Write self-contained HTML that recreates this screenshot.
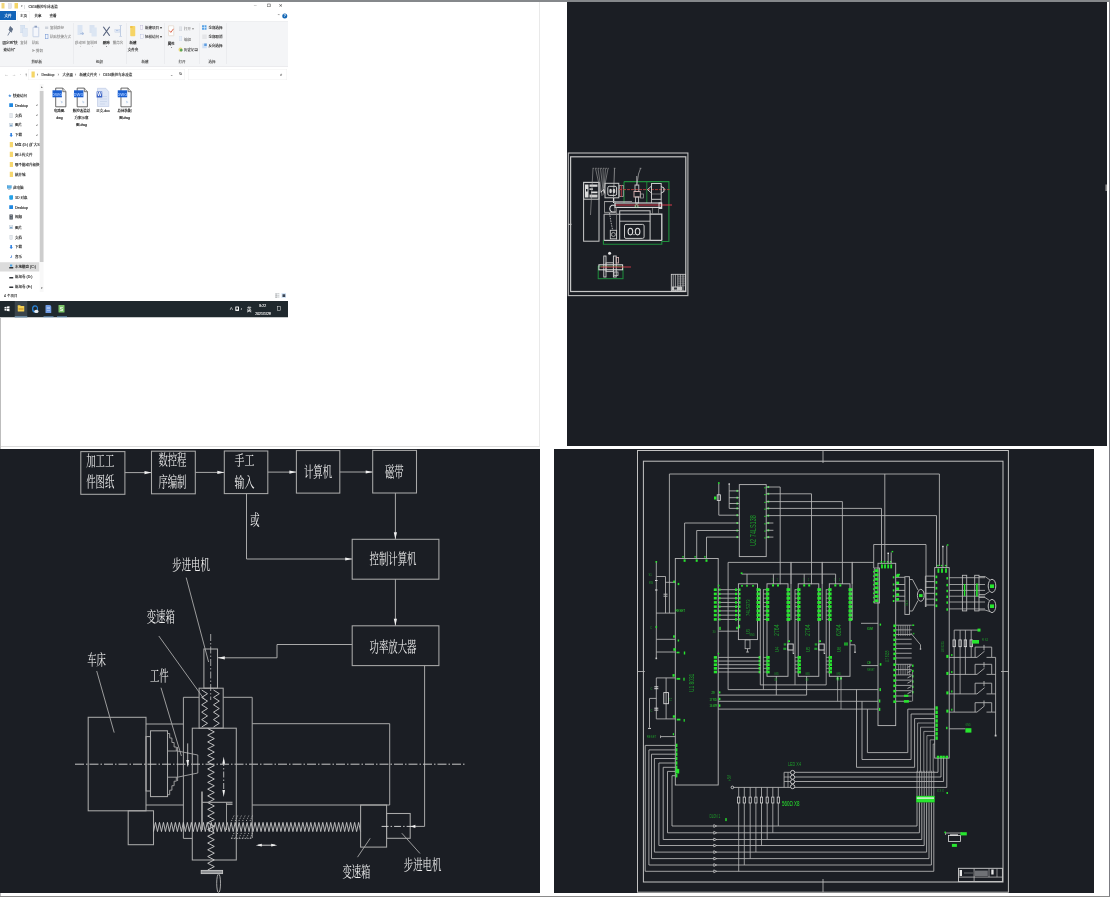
<!DOCTYPE html>
<html lang="zh-CN">
<head>
<meta charset="utf-8">
<title>C616数控车床改造</title>
<style>
html,body{margin:0;padding:0;}
body{width:1110px;height:897px;position:relative;overflow:hidden;background:#fff;font-family:"Liberation Sans","Noto Sans CJK SC",sans-serif;}
.abs{position:absolute;}
.fl{position:absolute;background:#8a8a8e;}
#p1{left:1px;top:1px;width:539px;height:446px;background:#fff;border-right:1px solid #e9e9e9;border-bottom:1px solid #dcdcdc;box-sizing:border-box;}
#p2{left:567px;top:1.6px;width:540px;height:444px;background:#1b1e24;}
#p3{left:0;top:449px;width:540px;height:444px;background:#1b1e24;}
#p4{left:554px;top:449px;width:539.5px;height:444px;background:#1b1e24;}
#ex{background:#fff;left:0;top:0;width:1152px;height:1272px;transform:scale(.25);transform-origin:0 0;font-size:14px;color:#333;line-height:1;white-space:nowrap;overflow:hidden;}
#ex i{position:absolute;display:block;font-style:normal;}
#ex b{position:absolute;display:block;font-weight:normal;transform:translateY(-50%);-webkit-text-stroke:0.5px currentColor;}
#ex b.c{transform:translate(-50%,-50%);}
svg{position:absolute;left:0;top:0;overflow:visible;}
#dw{filter:blur(0.35px);}
#ex{filter:blur(1.1px);}
.s{font-family:"Liberation Serif","Noto Serif CJK SC",serif;fill:#efefef;}
</style>
</head>
<body>
<div class="fl" style="left:0;top:0;width:1px;height:897px;background:#bdbdbd"></div><div class="fl" style="left:1109px;top:0;width:1px;height:897px;background:#7c7c82"></div><div class="fl" style="left:0;top:896px;width:1110px;height:1px;background:#8a8a8a"></div>
<div id="p1" class="abs"></div>
<div id="p2" class="abs"></div>
<div id="p3" class="abs"></div>
<div id="p4" class="abs"></div>
<div id="ex" class="abs">
<i style="left:6px;top:12px;width:12px;height:22px;background:#f3d77a;"></i>
<i style="left:34px;top:14px;width:12px;height:20px;background:#e4e4ec;border:1.6px solid #bbb;box-sizing:border-box"></i>
<i style="left:58px;top:12px;width:14px;height:22px;background:#f5d566;"></i>
<b style="left:82px;top:26px;color:#555;font-size:10px;">▾</b>
<b style="left:97.2px;top:25.2px;color:#bbb;">|</b>
<b style="left:114px;top:25.2px;color:#333;">C616数控车床改造</b>
<b style="left:1016px;top:22px;color:#555;font-size:14px;">─</b>
<b style="left:1066px;top:22px;color:#444;font-size:16.8px;">❐</b>
<b style="left:1116px;top:22px;color:#444;font-size:16.8px;">✕</b>
<i style="left:0px;top:44px;width:64px;height:36px;background:#1264b8;"></i>
<b class="c" style="left:32px;top:62.8px;color:#fff;">文件</b>
<b class="c" style="left:94px;top:63.2px;color:#333;">主页</b>
<i style="left:70px;top:46px;width:50px;height:38px;background:transparent;border:1.6px solid #e3e3e3;border-bottom:none;box-sizing:border-box"></i>
<b class="c" style="left:152px;top:63.2px;color:#333;">共享</b>
<b class="c" style="left:212px;top:63.2px;color:#333;">查看</b>
<b style="left:1108px;top:64px;color:#888;font-size:14px;">⌃</b>
<i style="left:1129.2px;top:54px;width:20px;height:20px;background:#1467b5;border-radius:50%"></i>
<b class="c" style="left:1139.2px;top:64px;color:#fff;font-size:14.4px;">?</b>
<i style="left:0px;top:84px;width:1152px;height:182px;background:#f4f5f7;border-bottom:2px solid #dcdde0;border-top:2px solid #e8e8ea;box-sizing:border-box"></i>
<i style="left:294px;top:92px;width:1.6px;height:164px;background:#e2e3e6;"></i>
<i style="left:506px;top:92px;width:1.6px;height:164px;background:#e2e3e6;"></i>
<i style="left:658px;top:92px;width:1.6px;height:164px;background:#e2e3e6;"></i>
<i style="left:798px;top:92px;width:1.6px;height:164px;background:#e2e3e6;"></i>
<i style="left:904px;top:92px;width:1.6px;height:164px;background:#e2e3e6;"></i>
<svg style="left:28px;top:104px" width="28" height="44" viewBox="0 0 7 11"><path d="M3.2 0.5 L6 3.3 L5 4 L4.4 6.3 L2 3.9 Z M3 5.4 L0.8 9.5" fill="#5f6f86" stroke="#5f6f86" stroke-width="0.8"/></svg>
<b class="c" style="left:40px;top:170.4px;color:#333;">固定到“快</b>
<b class="c" style="left:37.2px;top:198.4px;color:#333;">速访问”</b>
<i style="left:82px;top:100px;width:18px;height:32px;background:#d9e4f2;border:1.2px solid #c3d2e6;box-sizing:border-box"></i>
<i style="left:91.2px;top:112px;width:18.8px;height:34px;background:#dfe8f4;border:1.2px solid #c3d2e6;box-sizing:border-box"></i>
<b class="c" style="left:94.8px;top:170.4px;color:#9a9a9a;">复制</b>
<i style="left:130.8px;top:108px;width:24.8px;height:40px;background:#f4f6fb;border:2.4px solid #9fb2d4;box-sizing:border-box;border-radius:2px"></i>
<i style="left:138px;top:103.2px;width:10.4px;height:7.2px;background:#8ea0c0;"></i>
<b class="c" style="left:142.4px;top:170.4px;color:#9a9a9a;">粘贴</b>
<b style="left:129.2px;top:204px;color:#8a8a8a;font-size:12.8px;">✂</b>
<b style="left:144px;top:204px;color:#8a8a8a;">剪切</b>
<i style="left:180px;top:106px;width:12.8px;height:10.4px;background:#cfd4dc;"></i>
<b style="left:200px;top:112px;color:#9a9a9a;">复制路径</b>
<i style="left:181.2px;top:137.2px;width:12px;height:19.2px;background:#f4f7fc;border:2.4px solid #6b8fcf;box-sizing:border-box"></i>
<b style="left:200px;top:147.6px;color:#9a9a9a;">粘贴快捷方式</b>
<b class="c" style="left:147.2px;top:246px;color:#555;">剪贴板</b>
<i style="left:310px;top:100px;width:20px;height:40px;background:#dbe5f3;"></i>
<b class="c" style="left:327.2px;top:132px;color:#9db4da;font-size:20px;">➜</b>
<i style="left:358px;top:100px;width:20px;height:32px;background:#d9e3f1;"></i>
<i style="left:366px;top:110px;width:21.2px;height:36px;background:#dce6f3;"></i>
<b class="c" style="left:320.8px;top:171.2px;color:#9a9a9a;">移动到</b>
<b class="c" style="left:368px;top:171.2px;color:#9a9a9a;">复制到</b>
<b class="c" style="left:322px;top:186.4px;color:#bbb;font-size:8px;">▾</b>
<b class="c" style="left:369.2px;top:186.4px;color:#bbb;font-size:8px;">▾</b>
<svg style="left:410px;top:105.2px" width="32" height="40" viewBox="0 0 8 10"><path d="M0.8 0.5 L7.2 9.5 M7.2 0.5 L0.8 9.5" stroke="#56627e" stroke-width="1.15" fill="none"/></svg>
<b class="c" style="left:425.2px;top:171.6px;color:#222;">删除</b>
<b class="c" style="left:426px;top:187.2px;color:#555;font-size:8px;">▾</b>
<i style="left:459.2px;top:116px;width:20.8px;height:13.6px;background:#dfe7f4;border:1.2px solid #bccbe4;box-sizing:border-box"></i>
<i style="left:464px;top:121.6px;width:8.8px;height:2.4px;background:#8da7d4;"></i>
<i style="left:481.2px;top:102.8px;width:2.8px;height:42px;background:#aebfdc;"></i>
<i style="left:477.2px;top:102px;width:10.8px;height:2px;background:#aebfdc;"></i>
<i style="left:477.2px;top:144px;width:10.8px;height:2px;background:#aebfdc;"></i>
<b class="c" style="left:472px;top:171.2px;color:#9a9a9a;">重命名</b>
<b class="c" style="left:398px;top:245.2px;color:#555;">组织</b>
<i style="left:521.2px;top:104px;width:20px;height:41.2px;background:#f6d465;border-radius:3.2px"></i>
<i style="left:521.2px;top:104px;width:8.8px;height:8px;background:#eec24a;"></i>
<b class="c" style="left:532px;top:171.2px;color:#222;">新建</b>
<b class="c" style="left:532px;top:200px;color:#222;">文件夹</b>
<i style="left:561.2px;top:102.4px;width:10.4px;height:14.4px;background:#f7f7fb;border:1.6px solid #9a8fc0;box-sizing:border-box"></i>
<b style="left:580px;top:110.4px;color:#444;">新建项目 ▾</b>
<i style="left:562.4px;top:138.4px;width:10.4px;height:15.2px;background:#f7f7fb;border:1.6px solid #8f9fd0;box-sizing:border-box"></i>
<b style="left:580px;top:147.6px;color:#444;">轻松访问 ▾</b>
<b class="c" style="left:580px;top:245.2px;color:#555;">新建</b>
<i style="left:673.2px;top:102px;width:22.4px;height:42px;background:#fdfdfd;border:2px solid #d9c9b6;box-sizing:border-box;border-radius:2px"></i>
<svg style="left:674px;top:112px" width="24" height="24" viewBox="0 0 6 6"><path d="M0.8 2.6 L2.3 4.4 L5 0.8" stroke="#d8573c" stroke-width="0.9" fill="none"/></svg>
<b class="c" style="left:685.2px;top:172.8px;color:#222;">属性</b>
<b class="c" style="left:686.8px;top:188.8px;color:#555;font-size:8px;">▾</b>
<i style="left:717.2px;top:106.8px;width:10.4px;height:16.8px;background:#e3e6ea;border:1.2px solid #c5cad2;box-sizing:border-box"></i>
<b style="left:736px;top:116px;color:#9a9a9a;">打开 ▾</b>
<i style="left:717.2px;top:146.4px;width:11.2px;height:17.6px;background:#e8eef7;border:1.2px solid #c6d3e6;box-sizing:border-box"></i>
<b style="left:736px;top:156.8px;color:#8a8a8a;">编辑</b>
<i style="left:714px;top:190.4px;width:16px;height:16.8px;background:#e6d87c;border-radius:50%"></i>
<i style="left:720px;top:195.2px;width:10.4px;height:10.4px;background:#58a55c;border-radius:50%"></i>
<b style="left:736px;top:200px;color:#444;">历史记录</b>
<b class="c" style="left:728px;top:246px;color:#555;">打开</b>
<i style="left:808px;top:100.8px;width:18.4px;height:18.4px;background:#5aa3e6;"></i>
<i style="left:816.4px;top:100.8px;width:2px;height:18.4px;background:#fff;"></i>
<i style="left:808px;top:109.2px;width:18.4px;height:2px;background:#fff;"></i>
<b style="left:834px;top:110.8px;color:#333;">全部选择</b>
<i style="left:809.2px;top:138px;width:17.6px;height:18.4px;background:#e4e5e8;"></i>
<b style="left:834px;top:147.2px;color:#333;">全部取消</b>
<i style="left:809.2px;top:174px;width:17.6px;height:19.2px;background:#cfe0f5;"></i>
<i style="left:817.2px;top:174px;width:9.6px;height:9.6px;background:#5c9ce0;"></i>
<b style="left:834px;top:184px;color:#333;">反向选择</b>
<b class="c" style="left:848px;top:246px;color:#555;">选择</b>
<b style="left:18px;top:298px;color:#c4c4c4;font-size:16px;">←</b>
<b style="left:48px;top:298px;color:#c9c9c9;font-size:16px;">→</b>
<b style="left:78px;top:298.4px;color:#ccc;font-size:8.8px;">▾</b>
<b style="left:100px;top:297.6px;color:#666;font-size:16.8px;">↑</b>
<i style="left:114px;top:276px;width:626px;height:44px;background:#fff;border:1.6px solid #e2e2e2;box-sizing:border-box"></i>
<i style="left:126px;top:286px;width:13.2px;height:24px;background:#f5d667;"></i>
<b style="left:148px;top:298.4px;color:#777;">›</b>
<b style="left:166px;top:298px;color:#333;">Desktop</b>
<b style="left:231.2px;top:298.4px;color:#777;">›</b>
<b style="left:250px;top:298px;color:#333;">大桌面</b>
<b style="left:300px;top:298.4px;color:#777;">›</b>
<b style="left:318px;top:298px;color:#333;">新建文件夹</b>
<b style="left:396px;top:298.4px;color:#777;">›</b>
<b style="left:412px;top:298px;color:#333;">C616数控车床改造</b>
<b style="left:678px;top:298px;color:#666;font-size:14.4px;">⌄</b>
<b style="left:714px;top:297.2px;color:#555;font-size:16.8px;">↻</b>
<i style="left:754px;top:276px;width:394px;height:44px;background:#fff;border:1.6px solid #e2e2e2;box-sizing:border-box"></i>
<b style="left:1118px;top:297.6px;color:#666;font-size:18px;">⌕</b>
<i style="left:159.2px;top:364px;width:14.8px;height:684px;background:#cdcdcd;"></i>
<i style="left:159.2px;top:336px;width:14.8px;height:832px;background:#f8f8f8;z-index:-1"></i>
<b class="c" style="left:166.4px;top:350.4px;color:#666;font-size:10.4px;">▴</b>
<b class="c" style="left:166.4px;top:1153.2px;color:#555;font-size:10.4px;">▾</b>
<b style="left:33.2px;top:383.2px;color:#3a86d8;font-size:12.8px;">★</b>
<b style="left:52px;top:383.2px;color:#2b2b2b;">快速访问</b>
<i style="left:37.2px;top:412.8px;width:15.2px;height:15.2px;background:#1f87e0;"></i>
<b style="left:60px;top:420.8px;color:#2b2b2b;">Desktop</b>
<b style="left:145.2px;top:420.8px;color:#777;font-size:11.2px;">⌿</b>
<i style="left:39.2px;top:452.8px;width:11.2px;height:19.2px;background:#e6e9ee;border:1.2px solid #b9c1cc;box-sizing:border-box"></i>
<b style="left:60px;top:462.4px;color:#2b2b2b;">文档</b>
<b style="left:145.2px;top:462.4px;color:#777;font-size:11.2px;">⌿</b>
<i style="left:37.2px;top:492.4px;width:15.2px;height:14.4px;background:#dfe7ef;border:1.2px solid #a9b8c8;box-sizing:border-box"></i>
<i style="left:39.6px;top:499.2px;width:9.6px;height:5.6px;background:#7fa6c8;"></i>
<b style="left:60px;top:500px;color:#2b2b2b;">图片</b>
<b style="left:145.2px;top:500px;color:#777;font-size:11.2px;">⌿</b>
<b class="c" style="left:44.8px;top:540px;color:#2a7de0;font-size:17.6px;">⬇</b>
<b style="left:60px;top:540px;color:#2b2b2b;">下载</b>
<b style="left:145.2px;top:540px;color:#777;font-size:11.2px;">⌿</b>
<i style="left:38.8px;top:568px;width:12.8px;height:20.8px;background:#f6d76f;"></i>
<b style="left:60px;top:578.4px;color:#2b2b2b;">M盘 (D:)  (扩大S</b>
<i style="left:38.8px;top:606.8px;width:12.8px;height:20.8px;background:#f6d76f;"></i>
<b style="left:60px;top:617.2px;color:#2b2b2b;">网上传文件</b>
<i style="left:38.8px;top:647.6px;width:12.8px;height:20.8px;background:#f6d76f;"></i>
<b style="left:60px;top:658px;color:#2b2b2b;">哪个能动升级换</b>
<i style="left:38.8px;top:686.8px;width:12.8px;height:20.8px;background:#f6d76f;"></i>
<b style="left:60px;top:697.2px;color:#2b2b2b;">桃井城</b>
<i style="left:28px;top:741.6px;width:17.6px;height:12.8px;background:#5bb0e6;border:1.6px solid #4a8dc0;box-sizing:border-box"></i>
<i style="left:32px;top:756px;width:9.6px;height:2.4px;background:#7a8a99;"></i>
<b style="left:52px;top:750.4px;color:#2b2b2b;">此电脑</b>
<i style="left:37.2px;top:781.2px;width:15.2px;height:17.6px;background:#25a2e8;border-radius:4px 1.2px 4px 4px"></i>
<b style="left:60px;top:790px;color:#2b2b2b;">3D 对象</b>
<i style="left:37.2px;top:821.2px;width:15.2px;height:15.2px;background:#1f87e0;"></i>
<b style="left:60px;top:829.2px;color:#2b2b2b;">Desktop</b>
<i style="left:38.4px;top:858.4px;width:12.8px;height:20px;background:#3c444e;"></i>
<i style="left:41.2px;top:861.2px;width:7.2px;height:4px;background:#aab2bc;"></i>
<i style="left:41.2px;top:870px;width:7.2px;height:4px;background:#aab2bc;"></i>
<b style="left:60px;top:868.4px;color:#2b2b2b;">视频</b>
<i style="left:37.2px;top:901.6px;width:15.2px;height:14.4px;background:#dfe7ef;border:1.2px solid #a9b8c8;box-sizing:border-box"></i>
<i style="left:39.6px;top:908.4px;width:9.6px;height:5.6px;background:#7fa6c8;"></i>
<b style="left:60px;top:909.2px;color:#2b2b2b;">图片</b>
<i style="left:39.2px;top:940px;width:11.2px;height:19.2px;background:#e6e9ee;border:1.2px solid #b9c1cc;box-sizing:border-box"></i>
<b style="left:60px;top:949.6px;color:#2b2b2b;">文档</b>
<b class="c" style="left:44.8px;top:987.6px;color:#2a7de0;font-size:17.6px;">⬇</b>
<b style="left:60px;top:987.6px;color:#2b2b2b;">下载</b>
<b class="c" style="left:44.8px;top:1026.4px;color:#2a6fd0;font-size:20px;">♪</b>
<b style="left:60px;top:1026.4px;color:#2b2b2b;">音乐</b>
<i style="left:0px;top:1049.2px;width:157.2px;height:36.8px;background:#dcdcdc;z-index:-1"></i>
<i style="left:37.2px;top:1068px;width:16px;height:5.6px;background:#2f3338;"></i>
<i style="left:39.6px;top:1058.4px;width:9.6px;height:8px;background:#4aa3e6;"></i>
<b style="left:60px;top:1066.4px;color:#2b2b2b;">本地磁盘 (C:)</b>
<i style="left:37.2px;top:1108px;width:16px;height:6px;background:#2f3338;border-radius:1.2px"></i>
<b style="left:60px;top:1106.8px;color:#2b2b2b;">新加卷 (D:)</b>
<i style="left:37.2px;top:1146px;width:16px;height:6px;background:#2f3338;border-radius:1.2px"></i>
<b style="left:60px;top:1144.8px;color:#2b2b2b;">新加卷 (E:)</b>
<b style="left:16px;top:1184px;color:#444;">4 个项目</b>
<i style="left:1100px;top:1172px;width:18.4px;height:20px;background:#eceff2;"></i>
<i style="left:1101.6px;top:1174.4px;width:5.6px;height:4px;background:#9a9a9a;"></i>
<i style="left:1101.6px;top:1180.8px;width:5.6px;height:4px;background:#9a9a9a;"></i>
<i style="left:1101.6px;top:1187.2px;width:5.6px;height:4px;background:#9a9a9a;"></i>
<i style="left:1109.2px;top:1174.4px;width:8px;height:2px;background:#bbb;"></i>
<i style="left:1109.2px;top:1180.8px;width:8px;height:2px;background:#bbb;"></i>
<i style="left:1109.2px;top:1187.2px;width:8px;height:2px;background:#bbb;"></i>
<i style="left:1126px;top:1172px;width:18.4px;height:20px;background:#d6e6f7;"></i>
<i style="left:1129.6px;top:1177.2px;width:11.2px;height:10.4px;background:#3c4654;"></i>
<svg style="left:210.4px;top:349.6px" width="56" height="80" viewBox="0 0 14 20"><path d="M3.2 0.6 H10.3 L13.4 4.2 V19.3 H3.2 Z" fill="#fbfbfc" stroke="#3b3b3b" stroke-width="0.75"/><path d="M10.3 0.6 V4.2 H13.4" fill="#d8d8d8" stroke="#3b3b3b" stroke-width="0.6"/><rect x="0" y="2.8" width="9.4" height="7" fill="#1b5fd0"/><text x="4.7" y="8.1" font-size="4.2" fill="#9ec3ff" text-anchor="middle" font-family="Liberation Sans,sans-serif" font-weight="bold">DWG</text><path d="M8 13 l2.6 1.5 l-1.6 1.4 z" fill="#bfd3ea"/></svg>
<svg style="left:296px;top:349.6px" width="56" height="80" viewBox="0 0 14 20"><path d="M3.2 0.6 H10.3 L13.4 4.2 V19.3 H3.2 Z" fill="#fbfbfc" stroke="#3b3b3b" stroke-width="0.75"/><path d="M10.3 0.6 V4.2 H13.4" fill="#d8d8d8" stroke="#3b3b3b" stroke-width="0.6"/><rect x="0" y="2.8" width="9.4" height="7" fill="#1b5fd0"/><text x="4.7" y="8.1" font-size="4.2" fill="#9ec3ff" text-anchor="middle" font-family="Liberation Sans,sans-serif" font-weight="bold">DWG</text><path d="M8 13 l2.6 1.5 l-1.6 1.4 z" fill="#bfd3ea"/></svg>
<svg style="left:470.8px;top:349.6px" width="56" height="80" viewBox="0 0 14 20"><path d="M3.2 0.6 H10.3 L13.4 4.2 V19.3 H3.2 Z" fill="#fbfbfc" stroke="#3b3b3b" stroke-width="0.75"/><path d="M10.3 0.6 V4.2 H13.4" fill="#d8d8d8" stroke="#3b3b3b" stroke-width="0.6"/><rect x="0" y="2.8" width="9.4" height="7" fill="#1b5fd0"/><text x="4.7" y="8.1" font-size="4.2" fill="#9ec3ff" text-anchor="middle" font-family="Liberation Sans,sans-serif" font-weight="bold">DWG</text><path d="M8 13 l2.6 1.5 l-1.6 1.4 z" fill="#bfd3ea"/></svg>
<svg style="left:384px;top:349.6px" width="56" height="80" viewBox="0 0 14 20"><path d="M1.5 0.8 H9.8 L12.8 4.2 V19 H1.5 Z" fill="#dfe7f6" stroke="#b9c6e2" stroke-width="0.6"/><path d="M4 9 h7 M4 11.5 h7 M4 14 h7 M4 16.5 h5" stroke="#c6d2ea" stroke-width="0.7"/><rect x="0.6" y="4" width="5.6" height="6" fill="#3a62c4"/><text x="3.4" y="8.7" font-size="4.6" fill="#fff" text-anchor="middle" font-family="Liberation Sans,sans-serif" font-weight="bold">W</text></svg>
<b class="c" style="left:238px;top:444px;color:#222;">电路图.</b>
<b class="c" style="left:238px;top:471.2px;color:#222;">dwg</b>
<b class="c" style="left:326px;top:444px;color:#222;">数控改造总</b>
<b class="c" style="left:326px;top:471.2px;color:#222;">方案示意</b>
<b class="c" style="left:326px;top:498.8px;color:#222;">图.dwg</b>
<b class="c" style="left:412px;top:444px;color:#222;">正文.doc</b>
<b class="c" style="left:498.4px;top:444px;color:#222;">总体装配</b>
<b class="c" style="left:498.4px;top:471.2px;color:#222;">图.dwg</b>
<i style="left:0px;top:1204px;width:1152px;height:65.2px;background:#1f282d;"></i>
<i style="left:59.2px;top:1204px;width:49.6px;height:65.2px;background:#3a444b;"></i>
<i style="left:59.2px;top:1266px;width:49.6px;height:3.2px;background:#8fc3ee;"></i>
<svg style="left:18.4px;top:1224.8px" width="20" height="20" viewBox="0 0 5 5"><path d="M0 0.7 L2.1 0.4 V2.3 H0 Z M2.5 0.35 L5 0 V2.3 H2.5 Z M0 2.7 H2.1 V4.6 L0 4.3 Z M2.5 2.7 H5 V5 L2.5 4.65 Z" fill="#fff"/></svg>
<i style="left:71.2px;top:1224px;width:25.6px;height:22.4px;background:#f2cf52;border-radius:2px"></i>
<i style="left:74.4px;top:1232px;width:19.2px;height:8px;background:#d7a93a;"></i>
<i style="left:71.2px;top:1220.8px;width:10.4px;height:4.8px;background:#f2cf52;"></i>
<i style="left:128px;top:1220.8px;width:24px;height:29.6px;background:#2d88dd;border-radius:50%"></i>
<i style="left:132.8px;top:1226.4px;width:15.2px;height:17.6px;background:#1f282d;border-radius:50%"></i>
<i style="left:136.8px;top:1239.2px;width:16.8px;height:12.8px;background:#e9eef3;border-radius:50%"></i>
<i style="left:182.4px;top:1220px;width:22.4px;height:32px;background:#6f9be4;border-radius:2.4px 7.2px 2.4px 2.4px"></i>
<i style="left:187.2px;top:1228px;width:12.8px;height:2px;background:#d6e3fa;"></i>
<i style="left:187.2px;top:1234.4px;width:12.8px;height:2px;background:#d6e3fa;"></i>
<i style="left:187.2px;top:1240.8px;width:12.8px;height:2px;background:#d6e3fa;"></i>
<i style="left:174px;top:1266px;width:40px;height:3.2px;background:#7fb4e6;"></i>
<i style="left:234px;top:1220px;width:24px;height:30.4px;background:#7cc56a;border-radius:2.4px"></i>
<b class="c" style="left:246px;top:1235.2px;color:#fff;font-size:20px;">S</b>
<i style="left:228px;top:1266px;width:40px;height:3.2px;background:#7fb4e6;"></i>
<b style="left:918px;top:1237.2px;color:#e8e8e8;font-size:14.4px;">∧</b>
<i style="left:940.8px;top:1225.6px;width:15.2px;height:18.4px;background:#f1f1f1;border-radius:1.6px"></i>
<i style="left:944.8px;top:1229.6px;width:7.2px;height:8px;background:#1f282d;"></i>
<b style="left:962px;top:1237.2px;color:#ddd;font-size:14.4px;">♪</b>
<b style="left:988px;top:1236.8px;color:#f3f3f3;font-size:17.6px;">英</b>
<b class="c" style="left:1050.8px;top:1221.6px;color:#f1f1f1;">8:22</b>
<b class="c" style="left:1052px;top:1252.8px;color:#f1f1f1;">2021/1/29</b>
<i style="left:1108px;top:1224px;width:14.4px;height:18.4px;background:transparent;border:2.4px solid #e8e8e8;box-sizing:border-box;border-radius:1.2px"></i>
</div>
<div class="fl" style="left:0;top:0;width:1110px;height:1.6px;background:#85888b"></div>
<svg id="dw" width="1110" height="897" viewBox="0 0 1110 897">
<g id="g2"><rect x="568.3" y="153" width="119.6" height="142.6" rx="0" fill="none" stroke="#bdbdbd" stroke-width="1.1"/>
<rect x="570.6" y="156.8" width="115.2" height="134.7" rx="0" fill="none" stroke="#c6c6c6" stroke-width="1.2"/>
<path d="M568.3 224.3 L571.5 224.3" fill="none" stroke="#c9c9c9" stroke-width="1" />
<path d="M624 181.6 L668.9 181.6 L668.9 241.5 L661.8 241.5 L661.8 244.3 L603.4 244.3 L603.4 240" fill="none" stroke="#1f8f3c" stroke-width="1.1" />
<path d="M624 181.6 L624 203" fill="none" stroke="#1f8f3c" stroke-width="1" />
<path d="M646.8 181.8 L646.8 203" fill="none" stroke="#1f8f3c" stroke-width="0.9" />
<rect x="583.6" y="182.4" width="15.4" height="58.8" rx="0" fill="none" stroke="#c9c9c9" stroke-width="1"/>
<rect x="583.6" y="182.4" width="15.4" height="16.8" rx="0" fill="none" stroke="#c9c9c9" stroke-width="1"/>
<rect x="585" y="184.5" width="3.5" height="13" rx="0" fill="#dcdcdc" stroke="#c9c9c9" stroke-width="0"/>
<rect x="589.5" y="184.5" width="8" height="2.3" rx="0" fill="#d8d8d8" stroke="#c9c9c9" stroke-width="0"/>
<rect x="589.5" y="188.3" width="3.5" height="1.7" rx="0" fill="#bbb" stroke="#c9c9c9" stroke-width="0"/>
<rect x="591" y="191.5" width="6.5" height="1.7" rx="0" fill="#e2e2e2" stroke="#c9c9c9" stroke-width="0"/>
<rect x="589.5" y="194.6" width="8" height="2.9" rx="0" fill="#cfcfcf" stroke="#c9c9c9" stroke-width="0"/>
<rect x="586" y="189" width="1.5" height="2.5" rx="0" fill="#1b1e24" stroke="#c9c9c9" stroke-width="0"/>
<path d="M593 168.5 L590.5 215" fill="none" stroke="#a8a8a8" stroke-width="0.6" />
<path d="M595.5 168.5 L601 193" fill="none" stroke="#a8a8a8" stroke-width="0.6" />
<path d="M598 168.5 L602 196" fill="none" stroke="#a8a8a8" stroke-width="0.6" />
<path d="M600.5 168.5 L603 190" fill="none" stroke="#a8a8a8" stroke-width="0.6" />
<path d="M603 168.5 L603.5 192" fill="none" stroke="#a8a8a8" stroke-width="0.6" />
<path d="M605.5 168.5 L604 188" fill="none" stroke="#a8a8a8" stroke-width="0.6" />
<path d="M608 168.5 L603 195" fill="none" stroke="#a8a8a8" stroke-width="0.6" />
<path d="M614.5 168.5 L613.5 197" fill="none" stroke="#b0b0b0" stroke-width="0.7" />
<path d="M640.5 168.5 L638.5 174 L636.8 186" fill="none" stroke="#b0b0b0" stroke-width="0.7" />
<path d="M592.6 168.3 L609 168.3" fill="none" stroke="#9c9c9c" stroke-width="0.7" stroke-dasharray="1.6 1"/>
<path d="M613.8 168.3 L615.4 168.3" fill="none" stroke="#aaa" stroke-width="0.7" />
<path d="M639.6 168.3 L641.4 168.3" fill="none" stroke="#aaa" stroke-width="0.7" />
<rect x="605" y="183.3" width="13.8" height="14.5" rx="0" fill="none" stroke="#c9c9c9" stroke-width="1"/>
<rect x="607.8" y="186.3" width="8.8" height="9.1" rx="1.5" fill="none" stroke="#d4d4d4" stroke-width="1"/>
<ellipse cx="610.6" cy="191" rx="1.3" ry="2.2" fill="#cfcfcf"/><ellipse cx="614" cy="191" rx="1.3" ry="2.2" fill="#cfcfcf"/>
<rect x="619.5" y="185.5" width="3.8" height="11" rx="0" fill="none" stroke="#aaa" stroke-width="0.8"/>
<path d="M621.3 185 L621.3 197" fill="none" stroke="#d83a4a" stroke-width="0.8" />
<path d="M601 192 L604 189.5 L604.8 193.5" fill="none" stroke="#ddd" stroke-width="1" />
<path d="M619 189.6 L669.5 189.6" fill="none" stroke="#c8423f" stroke-width="0.8" stroke-dasharray="3 1"/>
<rect x="635" y="185" width="3.8" height="6.5" rx="0" fill="none" stroke="#c9c9c9" stroke-width="0.9"/>
<rect x="634" y="191.5" width="6.3" height="5.5" rx="0" fill="none" stroke="#d8b0b0" stroke-width="0.9"/>
<rect x="635.6" y="197" width="3" height="6" rx="0" fill="none" stroke="#c9c9c9" stroke-width="0.9"/>
<path d="M636.8 176 L636.8 185" fill="none" stroke="#c9c9c9" stroke-width="0.8" />
<rect x="640.3" y="194" width="3.1" height="4" rx="0" fill="none" stroke="#aaa" stroke-width="0.7"/>
<rect x="651.5" y="183.5" width="9.7" height="15.8" rx="0" fill="none" stroke="#c9c9c9" stroke-width="1"/>
<path d="M651.5 186 L647.5 189.6 L651.5 193.2" fill="none" stroke="#c9c9c9" stroke-width="1" />
<path d="M661.2 186.5 L664 188 L664 191.5 L661.2 193" fill="none" stroke="#e0e0e0" stroke-width="1" />
<path d="M652 194 L661 194" fill="none" stroke="#9a9a9a" stroke-width="0.7" />
<path d="M651.5 199.3 L651.5 203" fill="none" stroke="#c9c9c9" stroke-width="0.8" />
<path d="M661.2 199.3 L661.2 203" fill="none" stroke="#c9c9c9" stroke-width="0.8" />
<rect x="615" y="203" width="46.4" height="4.4" rx="0" fill="none" stroke="#e0e0e0" stroke-width="1.1"/>
<path d="M615 205 L672 205" fill="none" stroke="#d83a4a" stroke-width="1" />
<rect x="659" y="203" width="2.8" height="5.5" rx="0" fill="none" stroke="#e6e6e6" stroke-width="0.9"/>
<path d="M604.5 201.6 L632 201.6" fill="none" stroke="#bbb" stroke-width="0.8" />
<path d="M613.6 198 L613.6 203" fill="none" stroke="#e0e0e0" stroke-width="1.3" />
<path d="M616 205.3 H612 A3.2 3.5 0 0 0 612 212 H616" fill="none" stroke="#e0e0e0" stroke-width="1.1"/>
<circle cx="636.6" cy="206" r="1.5" fill="none" stroke="#9fe0a8" stroke-width="0.8"/>
<rect x="604.6" y="201.6" width="10.4" height="10.7" rx="0" fill="none" stroke="#aaa" stroke-width="0.8"/>
<path d="M604.1 240.4 L604.1 214.2 L619.7 214.2" fill="none" stroke="#c9c9c9" stroke-width="1" />
<path d="M650.1 214.2 L661.8 214.2 L661.8 240.4" fill="none" stroke="#d8d8d8" stroke-width="1.3" />
<path d="M604.1 240.4 L661.8 240.4" fill="none" stroke="#d0d0d0" stroke-width="1.4" />
<rect x="619.7" y="210.8" width="30.4" height="29.6" rx="0" fill="none" stroke="#c9c9c9" stroke-width="1"/>
<path d="M619.7 214.2 L650.1 214.2" fill="none" stroke="#c9c9c9" stroke-width="0.9" />
<path d="M619.7 221.2 L650.1 221.2" fill="none" stroke="#c9c9c9" stroke-width="0.9" />
<path d="M616.5 207.5 L616.5 240" fill="none" stroke="#909090" stroke-width="0.7" />
<path d="M652.5 208 L652.5 214" fill="none" stroke="#909090" stroke-width="0.7" />
<path d="M658.5 208 L658.5 214" fill="none" stroke="#909090" stroke-width="0.7" />
<rect x="624.5" y="224.4" width="19.6" height="14" rx="1.5" fill="none" stroke="#c9c9c9" stroke-width="1"/>
<ellipse cx="630.4" cy="231.6" rx="2.3" ry="3.3" fill="none" stroke="#dcdcdc" stroke-width="1.1"/><ellipse cx="637.6" cy="231.6" rx="2.3" ry="3.3" fill="none" stroke="#dcdcdc" stroke-width="1.1"/><circle cx="634" cy="234.6" r="0.6" fill="#ddd"/>
<rect x="610.3" y="230.3" width="6.3" height="8.5" rx="0" fill="none" stroke="#c9c9c9" stroke-width="0.9"/>
<circle cx="613.4" cy="234.5" r="2" fill="none" stroke="#bbb" stroke-width="0.8"/>
<path d="M609.5 213 L611 222 L612.6 230" fill="none" stroke="#bcbcbc" stroke-width="0.9" stroke-dasharray="1.5 1"/>
<rect x="598.2" y="266.3" width="24.8" height="12.4" rx="0" fill="none" stroke="#1f8f3c" stroke-width="1"/>
<circle cx="609.6" cy="253.2" r="1.5" fill="#e8e8e8"/>
<rect x="603.8" y="256" width="2.2" height="21" rx="0" fill="none" stroke="#d6d6d6" stroke-width="0.9"/>
<rect x="613.4" y="256" width="2.8" height="21" rx="0" fill="none" stroke="#d6d6d6" stroke-width="0.9"/>
<rect x="616.2" y="257.5" width="2.4" height="5.5" rx="0" fill="none" stroke="#d8b8b8" stroke-width="0.8"/>
<rect x="598.9" y="264.8" width="23.7" height="5" rx="0" fill="none" stroke="#e0e0e0" stroke-width="1"/>
<rect x="606" y="262.8" width="7.4" height="8.8" rx="0" fill="none" stroke="#ccc" stroke-width="0.9"/>
<rect x="614" y="272" width="4" height="3.5" rx="0" fill="none" stroke="#ccc" stroke-width="0.8"/>
<path d="M600.5 267 L631 267" fill="none" stroke="#d83a4a" stroke-width="0.9" />
<rect x="671.3" y="274.3" width="14.3" height="16.7" rx="0" fill="none" stroke="#d8d8d8" stroke-width="0.8"/>
<path d="M673.2 274.3 L673.2 291" fill="none" stroke="#cfcfcf" stroke-width="0.7" />
<path d="M675.4 274.3 L675.4 291" fill="none" stroke="#cfcfcf" stroke-width="0.7" />
<path d="M677.8 274.3 L677.8 291" fill="none" stroke="#cfcfcf" stroke-width="0.7" />
<path d="M680.4 274.3 L680.4 291" fill="none" stroke="#cfcfcf" stroke-width="0.7" />
<path d="M683 274.3 L683 291" fill="none" stroke="#cfcfcf" stroke-width="0.7" />
<path d="M678 276.2 L685.6 276.2" fill="none" stroke="#bdbdbd" stroke-width="0.5" />
<path d="M678 278.1 L685.6 278.1" fill="none" stroke="#bdbdbd" stroke-width="0.5" />
<path d="M678 280 L685.6 280" fill="none" stroke="#bdbdbd" stroke-width="0.5" />
<path d="M678 281.9 L685.6 281.9" fill="none" stroke="#bdbdbd" stroke-width="0.5" />
<path d="M678 283.8 L685.6 283.8" fill="none" stroke="#bdbdbd" stroke-width="0.5" />
<path d="M678 285.7 L685.6 285.7" fill="none" stroke="#bdbdbd" stroke-width="0.5" />
<rect x="671.8" y="286.5" width="10.2" height="4.1" rx="0" fill="#c4c4c4" stroke="#c9c9c9" stroke-width="0"/>
<rect x="674" y="287.5" width="3" height="2" rx="0" fill="#33363c" stroke="#c9c9c9" stroke-width="0"/>
<rect x="1105.4" y="184.5" width="1.6" height="6.5" rx="0" fill="#8c8c8c" stroke="#c9c9c9" stroke-width="0"/></g>
<g id="g3"><rect x="80.8" y="451.6" width="44.1" height="42.7" fill="none" stroke="#a9a9a9" stroke-width="1.05"/>
<rect x="151.5" y="451.2" width="43.8" height="42.6" fill="none" stroke="#a9a9a9" stroke-width="1.05"/>
<rect x="224.3" y="451" width="43.5" height="42.6" fill="none" stroke="#a9a9a9" stroke-width="1.05"/>
<rect x="296.4" y="450.6" width="43.4" height="42.5" fill="none" stroke="#a9a9a9" stroke-width="1.05"/>
<rect x="372.7" y="450.4" width="43.8" height="42.6" fill="none" stroke="#a9a9a9" stroke-width="1.05"/>
<text class="s" transform="translate(86.2 465.812) scale(0.66 1)" font-size="14.2" fill="#e6e6e6">加工工</text>
<text class="s" transform="translate(86.2 487.212) scale(0.66 1)" font-size="14.2" fill="#e6e6e6">件图纸</text>
<text class="s" transform="translate(158.4 465.412) scale(0.66 1)" font-size="14.2" fill="#e6e6e6">数控程</text>
<text class="s" transform="translate(158.4 486.812) scale(0.66 1)" font-size="14.2" fill="#e6e6e6">序编制</text>
<text class="s" transform="translate(234.6 465.212) scale(0.7 1)" font-size="14.2" fill="#e6e6e6">手工</text>
<text class="s" transform="translate(234.6 486.612) scale(0.7 1)" font-size="14.2" fill="#e6e6e6">输入</text>
<text class="s" transform="translate(304 477.212) scale(0.66 1)" font-size="14.2" fill="#e6e6e6">计算机</text>
<text class="s" transform="translate(385 477.012) scale(0.66 1)" font-size="14.2" fill="#e6e6e6">磁带</text>
<path d="M124.9 472.6 L151.5 472.6" fill="none" stroke="#a9a9a9" stroke-width="1.0" />
<polygon points="151.5,472.6 144.5,471 144.5,474.2" fill="#f0f0f0"/>
<path d="M195.3 472.4 L224.3 472.4" fill="none" stroke="#a9a9a9" stroke-width="1.0" />
<polygon points="224.3,472.4 217.3,470.8 217.3,474" fill="#f0f0f0"/>
<path d="M267.8 472.1 L296.4 472.1" fill="none" stroke="#a9a9a9" stroke-width="1.0" />
<polygon points="296.4,472.1 289.4,470.5 289.4,473.7" fill="#f0f0f0"/>
<path d="M339.8 472 L372.7 472" fill="none" stroke="#a9a9a9" stroke-width="1.0" />
<polygon points="372.7,472 365.7,470.4 365.7,473.6" fill="#f0f0f0"/>
<text class="s" transform="translate(250.3 525.012) scale(0.66 1)" font-size="14.2" fill="#e6e6e6">或</text>
<path d="M246.5 493.6 L246.5 559 L352.2 559" fill="none" stroke="#a9a9a9" stroke-width="1.0" />
<polygon points="352.2,559 345.2,557.4 345.2,560.6" fill="#f0f0f0"/>
<path d="M395.4 493 L395.4 539.3" fill="none" stroke="#a9a9a9" stroke-width="1.0" />
<polygon points="395.4,539.3 393.8,532.3 397,532.3" fill="#f0f0f0"/>
<rect x="352.2" y="539.3" width="86.7" height="39.9" fill="none" stroke="#a9a9a9" stroke-width="1.05"/>
<text class="s" transform="translate(369.6 563.812) scale(0.66 1)" font-size="14.2" fill="#e6e6e6">控制计算机</text>
<path d="M395.4 579.2 L395.4 625.8" fill="none" stroke="#a9a9a9" stroke-width="1.0" />
<polygon points="395.4,625.8 393.8,618.8 397,618.8" fill="#f0f0f0"/>
<rect x="352.2" y="625.8" width="86.7" height="39.8" fill="none" stroke="#a9a9a9" stroke-width="1.05"/>
<text class="s" transform="translate(369.6 651.612) scale(0.66 1)" font-size="14.2" fill="#e6e6e6">功率放大器</text>
<path d="M352.2 644.5 L277 644.5 L277 657.8 L217.6 657.8" fill="none" stroke="#a9a9a9" stroke-width="1.0" />
<polygon points="217.8,657.8 224.8,656.2 224.8,659.4" fill="#f0f0f0"/>
<path d="M424.6 665.6 L424.6 826.4 L410.2 826.4" fill="none" stroke="#a9a9a9" stroke-width="1.0" />
<polygon points="410.4,826.4 415.4,824.8 415.4,828" fill="#f0f0f0"/>
<text class="s" transform="translate(172.3 569.612) scale(0.66 1)" font-size="14.2" fill="#e6e6e6">步进电机</text>
<path d="M186.2 577.6 L208.6 662" fill="none" stroke="#a9a9a9" stroke-width="0.9" />
<text class="s" transform="translate(146.7 622.112) scale(0.66 1)" font-size="14.2" fill="#e6e6e6">变速箱</text>
<path d="M158.8 636 L204.4 699.5" fill="none" stroke="#a9a9a9" stroke-width="0.9" />
<text class="s" transform="translate(150 681.112) scale(0.66 1)" font-size="14.2" fill="#e6e6e6">工件</text>
<path d="M161 687.7 L181.4 756" fill="none" stroke="#a9a9a9" stroke-width="0.9" />
<text class="s" transform="translate(87.2 664.612) scale(0.66 1)" font-size="14.2" fill="#e6e6e6">车床</text>
<path d="M96.7 671 L114.2 732.6" fill="none" stroke="#a9a9a9" stroke-width="0.9" />
<text class="s" transform="translate(342.4 876.812) scale(0.66 1)" font-size="14.2" fill="#e6e6e6">变速箱</text>
<path d="M370.2 838.3 L357.5 857.2" fill="none" stroke="#a9a9a9" stroke-width="0.9" />
<text class="s" transform="translate(403.8 869.912) scale(0.66 1)" font-size="14.2" fill="#e6e6e6">步进电机</text>
<path d="M401.8 833.2 L420 853.5" fill="none" stroke="#a9a9a9" stroke-width="0.9" />
<rect x="88.2" y="717.3" width="57.8" height="93.5" fill="none" stroke="#a9a9a9" stroke-width="1.05"/>
<rect x="128.2" y="810.8" width="25.3" height="33.9" fill="none" stroke="#a9a9a9" stroke-width="1.05"/>
<path d="M146 724 L183.4 724" fill="none" stroke="#a9a9a9" stroke-width="1.0" />
<path d="M146 805 L183.4 805" fill="none" stroke="#a9a9a9" stroke-width="1.0" />
<path d="M252.2 723.7 L389.7 723.7 L389.7 805 L252.2 805" fill="none" stroke="#a9a9a9" stroke-width="1.0" />
<rect x="146" y="736.6" width="4.5" height="54.4" fill="none" stroke="#a9a9a9" stroke-width="1.05"/>
<rect x="150.5" y="730.8" width="17" height="65.8" fill="none" stroke="#a9a9a9" stroke-width="1.05"/>
<path d="M167.5 733.5 L169.7 733.5 L169.7 738 L171.9 738 L171.9 742.5 L174.1 742.5 L174.1 747 L176.3 747 L176.3 751" fill="none" stroke="#a9a9a9" stroke-width="0.9" />
<path d="M167.5 794.7 L169.7 794.7 L169.7 790.2 L171.9 790.2 L171.9 785.7 L174.1 785.7 L174.1 781.2 L176.3 781.2 L176.3 777.2" fill="none" stroke="#a9a9a9" stroke-width="0.9" />
<path d="M167.5 751 L177.6 751" fill="none" stroke="#a9a9a9" stroke-width="0.9" />
<path d="M167.5 777.2 L177.6 777.2" fill="none" stroke="#a9a9a9" stroke-width="0.9" />
<path d="M177.6 747 L177.6 781" fill="none" stroke="#a9a9a9" stroke-width="0.9" />
<path d="M177.6 751 L197.8 755 L197.8 773 L177.6 777.2" fill="none" stroke="#a9a9a9" stroke-width="0.9" />
<path d="M75 764.2 L464.6 764.2" fill="none" stroke="#c8c8c8" stroke-width="1" stroke-dasharray="9 2 1.5 2"/>
<path d="M192.3 838.4 L183.4 838.4 L183.4 697.3 L199.1 697.3" fill="none" stroke="#a9a9a9" stroke-width="1.0" />
<path d="M223.2 697.3 L252.2 697.3 L252.2 838" fill="none" stroke="#a9a9a9" stroke-width="1.0" />
<rect x="192.3" y="728.2" width="44" height="131.8" fill="none" stroke="#a9a9a9" stroke-width="1.05"/>
<rect x="199.1" y="688.2" width="24.1" height="40" fill="none" stroke="#a9a9a9" stroke-width="1.05"/>
<rect x="203.9" y="649" width="13.6" height="39.2" fill="none" stroke="#a9a9a9" stroke-width="1.05"/>
<path d="M210.7 634 L210.7 700" fill="none" stroke="#c0c0c0" stroke-width="0.8" stroke-dasharray="7 2 1.5 2"/>
<path d="M201.7 690 L207.5 693.7 L201.7 697.4 L207.5 701.1 L201.7 704.8 L207.5 708.5 L201.7 712.2 L207.5 715.9 L201.7 719.6 L207.5 723.3 L201.7 727" fill="none" stroke="#d0d0d0" stroke-width="0.9" />
<path d="M213.5 690 L219.3 693.7 L213.5 697.4 L219.3 701.1 L213.5 704.8 L219.3 708.5 L213.5 712.2 L219.3 715.9 L213.5 719.6 L219.3 723.3 L213.5 727" fill="none" stroke="#d0d0d0" stroke-width="0.9" />
<path d="M207.7 728.5 L214.3 731.869 L207.7 735.238 L214.3 738.607 L207.7 741.976 L214.3 745.345 L207.7 748.714 L214.3 752.083 L207.7 755.452 L214.3 758.821 L207.7 762.19 L214.3 765.56 L207.7 768.929 L214.3 772.298 L207.7 775.667 L214.3 779.036 L207.7 782.405 L214.3 785.774 L207.7 789.143 L214.3 792.512 L207.7 795.881 L214.3 799.25 L207.7 802.619 L214.3 805.988 L207.7 809.357 L214.3 812.726 L207.7 816.095 L214.3 819.464 L207.7 822.833 L214.3 826.202 L207.7 829.571 L214.3 832.94 L207.7 836.31 L214.3 839.679 L207.7 843.048 L214.3 846.417 L207.7 849.786 L214.3 853.155 L207.7 856.524 L214.3 859.893 L207.7 863.262 L214.3 866.631 L207.7 870" fill="none" stroke="#d0d0d0" stroke-width="0.9" />
<path d="M153.5 831.6 L155.491 822.4 L157.483 831.6 L159.474 822.4 L161.465 831.6 L163.457 822.4 L165.448 831.6 L167.439 822.4 L169.431 831.6 L171.422 822.4 L173.413 831.6 L175.405 822.4 L177.396 831.6 L179.388 822.4 L181.379 831.6 L183.37 822.4 L185.362 831.6 L187.353 822.4 L189.344 831.6 L191.336 822.4 L193.327 831.6 L195.318 822.4 L197.31 831.6 L199.301 822.4 L201.292 831.6 L203.284 822.4 L205.275 831.6 L207.266 822.4 L209.258 831.6 L211.249 822.4 L213.24 831.6 L215.232 822.4 L217.223 831.6 L219.214 822.4 L221.206 831.6 L223.197 822.4 L225.188 831.6 L227.18 822.4 L229.171 831.6 L231.163 822.4 L233.154 831.6 L235.145 822.4 L237.137 831.6 L239.128 822.4 L241.119 831.6 L243.111 822.4 L245.102 831.6 L247.093 822.4 L249.085 831.6 L251.076 822.4 L253.067 831.6 L255.059 822.4 L257.05 831.6 L259.041 822.4 L261.033 831.6 L263.024 822.4 L265.015 831.6 L267.007 822.4 L268.998 831.6 L270.989 822.4 L272.981 831.6 L274.972 822.4 L276.963 831.6 L278.955 822.4 L280.946 831.6 L282.938 822.4 L284.929 831.6 L286.92 822.4 L288.912 831.6 L290.903 822.4 L292.894 831.6 L294.886 822.4 L296.877 831.6 L298.868 822.4 L300.86 831.6 L302.851 822.4 L304.842 831.6 L306.834 822.4 L308.825 831.6 L310.816 822.4 L312.808 831.6 L314.799 822.4 L316.79 831.6 L318.782 822.4 L320.773 831.6 L322.764 822.4 L324.756 831.6 L326.747 822.4 L328.738 831.6 L330.73 822.4 L332.721 831.6 L334.713 822.4 L336.704 831.6 L338.695 822.4 L340.687 831.6 L342.678 822.4 L344.669 831.6 L346.661 822.4 L348.652 831.6 L350.643 822.4 L352.635 831.6 L354.626 822.4 L356.617 831.6 L358.609 822.4 L360.6 831.6" fill="none" stroke="#cfcfcf" stroke-width="0.85" stroke-linejoin="round"/>
<path d="M231.5 821 L234.5 814.5" fill="none" stroke="#bdbdbd" stroke-width="0.8" stroke-dasharray="1.2 1.2"/>
<path d="M231.5 838.4 L234.5 832" fill="none" stroke="#bdbdbd" stroke-width="0.8" stroke-dasharray="1.2 1.2"/>
<path d="M235.2 821 L238.2 814.5" fill="none" stroke="#bdbdbd" stroke-width="0.8" stroke-dasharray="1.2 1.2"/>
<path d="M235.2 838.4 L238.2 832" fill="none" stroke="#bdbdbd" stroke-width="0.8" stroke-dasharray="1.2 1.2"/>
<path d="M238.9 821 L241.9 814.5" fill="none" stroke="#bdbdbd" stroke-width="0.8" stroke-dasharray="1.2 1.2"/>
<path d="M238.9 838.4 L241.9 832" fill="none" stroke="#bdbdbd" stroke-width="0.8" stroke-dasharray="1.2 1.2"/>
<path d="M242.6 821 L245.6 814.5" fill="none" stroke="#bdbdbd" stroke-width="0.8" stroke-dasharray="1.2 1.2"/>
<path d="M242.6 838.4 L245.6 832" fill="none" stroke="#bdbdbd" stroke-width="0.8" stroke-dasharray="1.2 1.2"/>
<path d="M246.3 821 L249.3 814.5" fill="none" stroke="#bdbdbd" stroke-width="0.8" stroke-dasharray="1.2 1.2"/>
<path d="M246.3 838.4 L249.3 832" fill="none" stroke="#bdbdbd" stroke-width="0.8" stroke-dasharray="1.2 1.2"/>
<path d="M250 821 L253 814.5" fill="none" stroke="#bdbdbd" stroke-width="0.8" stroke-dasharray="1.2 1.2"/>
<path d="M250 838.4 L253 832" fill="none" stroke="#bdbdbd" stroke-width="0.8" stroke-dasharray="1.2 1.2"/>
<path d="M231 838.4 L252.5 838.4" fill="none" stroke="#bdbdbd" stroke-width="0.8" stroke-dasharray="1.5 1.2"/>
<path d="M202 791.5 L202 830" fill="none" stroke="#a9a9a9" stroke-width="1.6" />
<path d="M202 802.3 L232.5 802.3" fill="none" stroke="#a9a9a9" stroke-width="1.1" />
<path d="M226 804.2 L232.5 804.2" fill="none" stroke="#a9a9a9" stroke-width="1.4" />
<path d="M226.5 802.3 L226.5 830" fill="none" stroke="#a9a9a9" stroke-width="0.9" />
<path d="M223.7 760 L223.7 794" fill="none" stroke="#d8d8d8" stroke-width="0.8" stroke-dasharray="6 2 1.5 2"/>
<polygon points="223.7,756.8 222.4,763.8 225,763.8" fill="#f0f0f0"/>
<polygon points="223.7,797 222.4,790 225,790" fill="#f0f0f0"/>
<path d="M187.7 743.4 L187.7 766.5" fill="none" stroke="#c8c8c8" stroke-width="0.9" />
<polygon points="187.7,766 186.3,760 189.1,760" fill="#f0f0f0"/>
<path d="M258 845.2 L275 845.2" fill="none" stroke="#e0e0e0" stroke-width="0.9" />
<polygon points="255.8,845.2 261.8,843.8 261.8,846.6" fill="#f0f0f0"/>
<polygon points="277.2,845.2 271.2,843.8 271.2,846.6" fill="#f0f0f0"/>
<rect x="201.2" y="870.4" width="21.4" height="3.2" fill="#8d8f92" stroke="#c8c8c8" stroke-width="0.9"/>
<ellipse cx="218.6" cy="883.3" rx="1.9" ry="9.4" fill="none" stroke="#b4b4b4" stroke-width="0.9"/>
<rect x="360.6" y="805" width="26" height="42.1" fill="none" stroke="#a9a9a9" stroke-width="1.05"/>
<rect x="386.6" y="813.5" width="23.6" height="24.8" fill="none" stroke="#a9a9a9" stroke-width="1.05"/>
<path d="M381.6 826.4 L412 826.4" fill="none" stroke="#e0e0e0" stroke-width="0.9" stroke-dasharray="7 2 1.5 2"/></g>
<g id="g4"><rect x="637.5" y="450.5" width="370.9" height="441.7" rx="0" fill="none" stroke="#c2c2c2" stroke-width="1"/>
<rect x="643.4" y="461.2" width="359.6" height="420.8" rx="0" fill="none" stroke="#c2c2c2" stroke-width="1"/>
<path d="M823 450.5 L823 463" fill="none" stroke="#b9b9b9" stroke-width="0.85" />
<path d="M823 879 L823 892" fill="none" stroke="#b9b9b9" stroke-width="0.85" />
<path d="M637.5 671.5 L644.8 671.5" fill="none" stroke="#b9b9b9" stroke-width="0.85" />
<path d="M1001 671.5 L1008.4 671.5" fill="none" stroke="#b9b9b9" stroke-width="0.85" />
<path d="M669.4 613.1 L669.4 474 L939.4 474 L939.4 566" fill="none" stroke="#b9b9b9" stroke-width="0.85" />
<path d="M884.8 474 L884.8 562" fill="none" stroke="#b9b9b9" stroke-width="0.85" />
<rect x="739.3" y="484.6" width="26.9" height="72" rx="0" fill="none" stroke="#b9b9b9" stroke-width="0.9"/>
<text transform="translate(755.8 546) rotate(-90) scale(0.68 1)" font-size="8.184" fill="#1d9a2a" text-anchor="start" font-family="Liberation Sans,sans-serif">U2 74LS138</text>
<rect x="736.4" y="489.9" width="1.6" height="2" fill="#27e62e"/>
<rect x="736.4" y="496.7" width="1.6" height="2" fill="#27e62e"/>
<rect x="736.4" y="502.5" width="1.6" height="2" fill="#27e62e"/>
<rect x="736.4" y="507.4" width="1.6" height="2" fill="#27e62e"/>
<rect x="736.4" y="514.2" width="1.6" height="2" fill="#27e62e"/>
<rect x="736.4" y="522" width="1.6" height="2" fill="#27e62e"/>
<rect x="736.4" y="529.5" width="1.6" height="2" fill="#27e62e"/>
<rect x="736.4" y="536.1" width="1.6" height="2" fill="#27e62e"/>
<rect x="767.4" y="486" width="1.8" height="2" fill="#27e62e"/>
<rect x="764.4" y="487.2" width="1.2" height="1.2" fill="#27e62e"/>
<rect x="767.4" y="492.8" width="1.8" height="2" fill="#27e62e"/>
<rect x="764.4" y="494" width="1.2" height="1.2" fill="#27e62e"/>
<rect x="767.4" y="500.6" width="1.8" height="2" fill="#27e62e"/>
<rect x="764.4" y="501.8" width="1.2" height="1.2" fill="#27e62e"/>
<rect x="767.4" y="507.4" width="1.8" height="2" fill="#27e62e"/>
<rect x="764.4" y="508.6" width="1.2" height="1.2" fill="#27e62e"/>
<rect x="767.4" y="514.6" width="1.8" height="2" fill="#27e62e"/>
<rect x="764.4" y="515.8" width="1.2" height="1.2" fill="#27e62e"/>
<rect x="767.4" y="522" width="1.8" height="2" fill="#27e62e"/>
<rect x="764.4" y="523.2" width="1.2" height="1.2" fill="#27e62e"/>
<rect x="767.4" y="529.3" width="1.8" height="2" fill="#27e62e"/>
<rect x="764.4" y="530.5" width="1.2" height="1.2" fill="#27e62e"/>
<rect x="767.4" y="536.1" width="1.8" height="2" fill="#27e62e"/>
<rect x="764.4" y="537.3" width="1.2" height="1.2" fill="#27e62e"/>
<path d="M729.2 484 L729.2 508.4 L739.3 508.4" fill="none" stroke="#b9b9b9" stroke-width="0.85" />
<path d="M729.2 490.9 L739.3 490.9" fill="none" stroke="#b9b9b9" stroke-width="0.85" />
<path d="M729.2 497.7 L739.3 497.7" fill="none" stroke="#b9b9b9" stroke-width="0.85" />
<path d="M729.2 503.5 L739.3 503.5" fill="none" stroke="#b9b9b9" stroke-width="0.85" />
<rect x="728.5" y="483.3" width="1.4" height="1.4" fill="#ddd"/>
<path d="M718.8 483.5 L718.8 515.2 L739.3 515.2" fill="none" stroke="#b9b9b9" stroke-width="0.85" />
<rect x="717.2" y="494.8" width="3.2" height="5.8" rx="0" fill="none" stroke="#e0e0e0" stroke-width="0.8"/>
<rect x="718" y="482.2" width="1.6" height="1.6" fill="#27e62e"/>
<rect x="714" y="496.5" width="2.4" height="3" fill="#27e62e"/>
<path d="M739.3 523 L684.6 523 L684.6 558.5" fill="none" stroke="#b9b9b9" stroke-width="0.85" />
<path d="M739.3 530.5 L696.7 530.5 L696.7 558.5" fill="none" stroke="#b9b9b9" stroke-width="0.85" />
<path d="M739.3 537.1 L706.5 537.1 L706.5 558.5" fill="none" stroke="#b9b9b9" stroke-width="0.85" />
<path d="M766.2 487 L780.2 487 L780.2 584.3" fill="none" stroke="#b9b9b9" stroke-width="0.85" />
<path d="M766.2 493.8 L811.5 493.8 L811.5 584.3" fill="none" stroke="#b9b9b9" stroke-width="0.85" />
<path d="M766.2 501.6 L842.4 501.6 L842.4 584" fill="none" stroke="#b9b9b9" stroke-width="0.85" />
<path d="M766.2 508.4 L881.5 508.4 L881.5 563" fill="none" stroke="#b9b9b9" stroke-width="0.85" />
<path d="M766.2 515.6 L936.5 515.6 L936.5 567.5" fill="none" stroke="#b9b9b9" stroke-width="0.85" />
<path d="M766.2 523 L773.4 523" fill="none" stroke="#b9b9b9" stroke-width="0.85" />
<path d="M766.2 530.3 L773.4 530.3" fill="none" stroke="#b9b9b9" stroke-width="0.85" />
<path d="M766.2 537.1 L773.4 537.1" fill="none" stroke="#b9b9b9" stroke-width="0.85" />
<rect x="675.3" y="558.5" width="42.9" height="226.5" rx="0" fill="none" stroke="#b9b9b9" stroke-width="0.9"/>
<text transform="translate(693.6 692) rotate(-90) scale(0.68 1)" font-size="7.128" fill="#1d9a2a" text-anchor="start" font-family="Liberation Sans,sans-serif">U1 8031</text>
<rect x="683.6" y="559.4" width="2" height="2.4" fill="#27e62e"/>
<rect x="682.4" y="556" width="1.2" height="1.6" fill="#27e62e"/>
<rect x="695.7" y="559.4" width="2" height="2.4" fill="#27e62e"/>
<rect x="694.5" y="556" width="1.2" height="1.6" fill="#27e62e"/>
<rect x="705.5" y="559.4" width="2" height="2.4" fill="#27e62e"/>
<rect x="704.3" y="556" width="1.2" height="1.6" fill="#27e62e"/>
<path d="M656.3 561.8 L656.3 658.4" fill="none" stroke="#b9b9b9" stroke-width="0.85" />
<rect x="655.5" y="561" width="1.6" height="1.6" fill="#27e62e"/>
<rect x="655.5" y="626.2" width="1.6" height="1.6" fill="#27e62e"/>
<rect x="655.5" y="657.6" width="1.6" height="1.6" fill="#ccc"/>
<path d="M656.3 576.5 L665.5 576.5 L665.5 613.1" fill="none" stroke="#b9b9b9" stroke-width="0.85" />
<path d="M656.3 613.1 L675.3 613.1" fill="none" stroke="#b9b9b9" stroke-width="0.85" />
<path d="M665.5 582.3 L675.3 582.3" fill="none" stroke="#b9b9b9" stroke-width="0.85" />
<rect x="673.2" y="580.6" width="2" height="2" fill="#27e62e"/>
<rect x="677.7" y="582.9" width="1.6" height="2.2" fill="#27e62e"/>
<path d="M663.5 594.2 L667.5 594.2" fill="none" stroke="#b9b9b9" stroke-width="1" />
<path d="M663.5 596.2 L667.5 596.2" fill="none" stroke="#b9b9b9" stroke-width="1" />
<text transform="translate(648.5 576) scale(0.68 1)" font-size="3.96" fill="#1d9a2a" text-anchor="start" font-family="Liberation Sans,sans-serif">S1</text>
<text transform="translate(648.8 584) scale(0.68 1)" font-size="3.96" fill="#1d9a2a" text-anchor="start" font-family="Liberation Sans,sans-serif">SW</text>
<path d="M655 580.5 L657.5 580.5" fill="none" stroke="#ddd" stroke-width="1" />
<path d="M655 590 L657.5 590" fill="none" stroke="#ddd" stroke-width="1" />
<text transform="translate(675.5 611.5) scale(0.68 1)" font-size="4.224" fill="#27e62e" text-anchor="start" font-family="Liberation Sans,sans-serif">RESET</text>
<text transform="translate(650 628.5) scale(0.68 1)" font-size="3.96" fill="#1d9a2a" text-anchor="start" font-family="Liberation Sans,sans-serif">C</text>
<path d="M656.3 639.3 L675.3 639.3" fill="none" stroke="#b9b9b9" stroke-width="0.85" />
<path d="M656.3 652 L675.3 652" fill="none" stroke="#b9b9b9" stroke-width="0.85" />
<rect x="673.1" y="635.3" width="1.8" height="2.4" fill="#27e62e"/>
<rect x="677.7" y="639.5" width="1.4" height="2" fill="#27e62e"/>
<rect x="673.3" y="648.2" width="2.4" height="2.6" fill="#27e62e"/>
<rect x="676.5" y="651.7" width="3" height="1.6" fill="#27e62e"/>
<rect x="683.8" y="651.5" width="1.4" height="3" fill="#27e62e"/>
<path d="M675.3 677.9 L656.3 677.9 L656.3 718.9 L675.3 718.9" fill="none" stroke="#b9b9b9" stroke-width="0.85" />
<path d="M666.1 677.9 L666.1 718.9" fill="none" stroke="#b9b9b9" stroke-width="0.85" />
<rect x="663.8" y="692.6" width="4.7" height="11.1" rx="0" fill="none" stroke="#d8d8d8" stroke-width="0.9"/>
<text transform="translate(671.5 701) rotate(-90) scale(0.68 1)" font-size="3.96" fill="#1d9a2a" text-anchor="start" font-family="Liberation Sans,sans-serif">Y1</text>
<path d="M654.3 686.8 L658.3 686.8" fill="none" stroke="#ddd" stroke-width="1" />
<path d="M654.3 688.7 L658.3 688.7" fill="none" stroke="#ddd" stroke-width="1" />
<path d="M654.3 708.2 L658.3 708.2" fill="none" stroke="#ddd" stroke-width="1" />
<path d="M654.3 710.1 L658.3 710.1" fill="none" stroke="#ddd" stroke-width="1" />
<path d="M656.3 698.4 L649.5 698.4 L649.5 727.7" fill="none" stroke="#b9b9b9" stroke-width="0.85" />
<rect x="648" y="727.9" width="3" height="1" fill="#ccc"/>
<text transform="translate(650.5 690) scale(0.68 1)" font-size="3.96" fill="#1d9a2a" text-anchor="start" font-family="Liberation Sans,sans-serif">C</text>
<text transform="translate(650.5 712) scale(0.68 1)" font-size="3.96" fill="#1d9a2a" text-anchor="start" font-family="Liberation Sans,sans-serif">C</text>
<rect x="672.5" y="674.1" width="2.2" height="2.6" fill="#27e62e"/>
<rect x="676.6" y="677.9" width="3.6" height="1.8" fill="#27e62e"/>
<rect x="683.4" y="677.7" width="1.2" height="3" fill="#27e62e"/>
<rect x="672.8" y="715.3" width="2.4" height="2.4" fill="#27e62e"/>
<rect x="676.8" y="718.7" width="3.6" height="1.8" fill="#27e62e"/>
<rect x="683.6" y="719.1" width="1.2" height="2.6" fill="#27e62e"/>
<path d="M718.2 589.7 L737.9 589.7" fill="none" stroke="#b9b9b9" stroke-width="0.85" />
<rect x="713.8" y="588.4" width="3" height="2.6" fill="#27e62e"/>
<rect x="719" y="588.6" width="1.6" height="2.2" fill="#27e62e"/>
<rect x="735" y="588.5" width="2" height="2.4" fill="#27e62e"/>
<path d="M718.2 593.943 L737.9 593.943" fill="none" stroke="#b9b9b9" stroke-width="0.85" />
<rect x="713.8" y="592.643" width="3" height="2.6" fill="#27e62e"/>
<rect x="719" y="592.843" width="1.6" height="2.2" fill="#27e62e"/>
<rect x="735" y="592.743" width="2" height="2.4" fill="#27e62e"/>
<path d="M718.2 598.186 L737.9 598.186" fill="none" stroke="#b9b9b9" stroke-width="0.85" />
<rect x="713.8" y="596.886" width="3" height="2.6" fill="#27e62e"/>
<rect x="719" y="597.086" width="1.6" height="2.2" fill="#27e62e"/>
<rect x="735" y="596.986" width="2" height="2.4" fill="#27e62e"/>
<path d="M718.2 602.429 L737.9 602.429" fill="none" stroke="#b9b9b9" stroke-width="0.85" />
<rect x="713.8" y="601.129" width="3" height="2.6" fill="#27e62e"/>
<rect x="719" y="601.329" width="1.6" height="2.2" fill="#27e62e"/>
<rect x="735" y="601.229" width="2" height="2.4" fill="#27e62e"/>
<path d="M718.2 606.672 L737.9 606.672" fill="none" stroke="#b9b9b9" stroke-width="0.85" />
<rect x="713.8" y="605.372" width="3" height="2.6" fill="#27e62e"/>
<rect x="719" y="605.572" width="1.6" height="2.2" fill="#27e62e"/>
<rect x="735" y="605.472" width="2" height="2.4" fill="#27e62e"/>
<path d="M718.2 610.915 L737.9 610.915" fill="none" stroke="#b9b9b9" stroke-width="0.85" />
<rect x="713.8" y="609.615" width="3" height="2.6" fill="#27e62e"/>
<rect x="719" y="609.815" width="1.6" height="2.2" fill="#27e62e"/>
<rect x="735" y="609.715" width="2" height="2.4" fill="#27e62e"/>
<path d="M718.2 615.158 L737.9 615.158" fill="none" stroke="#b9b9b9" stroke-width="0.85" />
<rect x="713.8" y="613.858" width="3" height="2.6" fill="#27e62e"/>
<rect x="719" y="614.058" width="1.6" height="2.2" fill="#27e62e"/>
<rect x="735" y="613.958" width="2" height="2.4" fill="#27e62e"/>
<path d="M718.2 619.401 L737.9 619.401" fill="none" stroke="#b9b9b9" stroke-width="0.85" />
<rect x="713.8" y="618.101" width="3" height="2.6" fill="#27e62e"/>
<rect x="719" y="618.301" width="1.6" height="2.2" fill="#27e62e"/>
<rect x="735" y="618.201" width="2" height="2.4" fill="#27e62e"/>
<rect x="717.9" y="584.8" width="1.4" height="1.6" fill="#27e62e"/>
<path d="M718.2 631.2 L737.9 631.2" fill="none" stroke="#b9b9b9" stroke-width="0.85" />
<rect x="719.3" y="626.8" width="1.4" height="3.2" fill="#27e62e"/>
<text transform="translate(712.5 632.6) scale(0.68 1)" font-size="3.96" fill="#1d9a2a" text-anchor="start" font-family="Liberation Sans,sans-serif">30</text>
<rect x="736.2" y="626.8" width="1.6" height="2.4" fill="#27e62e"/>
<path d="M718.2 657.4 L759.5 657.4" fill="none" stroke="#b9b9b9" stroke-width="0.85" />
<rect x="713.8" y="656.1" width="3.2" height="2.6" fill="#27e62e"/>
<rect x="758.6" y="656.1" width="2" height="2.6" fill="#27e62e"/>
<path d="M718.2 661.05 L759.5 661.05" fill="none" stroke="#b9b9b9" stroke-width="0.85" />
<rect x="713.8" y="659.75" width="3.2" height="2.6" fill="#27e62e"/>
<rect x="758.6" y="659.75" width="2" height="2.6" fill="#27e62e"/>
<path d="M718.2 664.7 L759.5 664.7" fill="none" stroke="#b9b9b9" stroke-width="0.85" />
<rect x="713.8" y="663.4" width="3.2" height="2.6" fill="#27e62e"/>
<rect x="758.6" y="663.4" width="2" height="2.6" fill="#27e62e"/>
<path d="M718.2 668.35 L759.5 668.35" fill="none" stroke="#b9b9b9" stroke-width="0.85" />
<rect x="713.8" y="667.05" width="3.2" height="2.6" fill="#27e62e"/>
<rect x="758.6" y="667.05" width="2" height="2.6" fill="#27e62e"/>
<path d="M718.2 672 L759.5 672" fill="none" stroke="#b9b9b9" stroke-width="0.85" />
<rect x="713.8" y="670.7" width="3.2" height="2.6" fill="#27e62e"/>
<rect x="758.6" y="670.7" width="2" height="2.6" fill="#27e62e"/>
<rect x="717.8" y="652.8" width="1.4" height="1.6" fill="#27e62e"/>
<text transform="translate(711.5 694) scale(0.68 1)" font-size="3.96" fill="#27e62e" text-anchor="start" font-family="Liberation Sans,sans-serif">29</text>
<text transform="translate(709.6 701) scale(0.68 1)" font-size="3.696" fill="#27e62e" text-anchor="start" font-family="Liberation Sans,sans-serif">17 RD</text>
<text transform="translate(709.6 707.4) scale(0.68 1)" font-size="3.696" fill="#27e62e" text-anchor="start" font-family="Liberation Sans,sans-serif">16 WR</text>
<rect x="718.8" y="691.4" width="1.6" height="2" fill="#27e62e"/>
<rect x="718.8" y="697.8" width="1.6" height="2.4" fill="#27e62e"/>
<rect x="718.8" y="704.4" width="1.6" height="2.4" fill="#27e62e"/>
<path d="M718.2 695.1 L806.6 695.1 L806.6 676" fill="none" stroke="#b9b9b9" stroke-width="0.85" />
<path d="M776.3 676 L776.3 695.1" fill="none" stroke="#b9b9b9" stroke-width="0.85" />
<path d="M718.2 701.3 L878 701.3" fill="none" stroke="#b9b9b9" stroke-width="0.85" />
<path d="M718.2 709.1 L878 709.1" fill="none" stroke="#b9b9b9" stroke-width="0.85" />
<path d="M873.7 562.4 L728.1 562.4 L728.1 689.6 L878 689.6" fill="none" stroke="#b9b9b9" stroke-width="0.85" />
<path d="M741.6 574.1 L835.6 574.1 L835.6 584" fill="none" stroke="#b9b9b9" stroke-width="0.85" />
<rect x="740.7" y="572.4" width="1.8" height="1.6" fill="#27e62e"/>
<path d="M747 574.1 L747 584.3" fill="none" stroke="#b9b9b9" stroke-width="0.85" />
<path d="M773.4 574.1 L773.4 584.3" fill="none" stroke="#b9b9b9" stroke-width="0.85" />
<path d="M804.2 574.1 L804.2 584.3" fill="none" stroke="#b9b9b9" stroke-width="0.85" />
<path d="M791 562.4 L791 584" fill="none" stroke="#b9b9b9" stroke-width="0.7" />
<path d="M822.2 562.4 L822.2 584" fill="none" stroke="#b9b9b9" stroke-width="0.7" />
<path d="M852.2 562.4 L852.2 584" fill="none" stroke="#b9b9b9" stroke-width="0.7" />
<rect x="738.4" y="583.8" width="19.1" height="55.8" rx="0" fill="none" stroke="#b9b9b9" stroke-width="0.9"/>
<text transform="translate(750.4 616) rotate(-90) scale(0.68 1)" font-size="6.072" fill="#1d9a2a" text-anchor="start" font-family="Liberation Sans,sans-serif">74LS373</text>
<text transform="translate(750.4 634) rotate(-90) scale(0.68 1)" font-size="5.544" fill="#1d9a2a" text-anchor="start" font-family="Liberation Sans,sans-serif">U3</text>
<rect x="756.5" y="588.2" width="3.8" height="3" fill="#27e62e"/>
<rect x="738.7" y="588.4" width="1.8" height="2.6" fill="#27e62e"/>
<rect x="756.5" y="592.443" width="3.8" height="3" fill="#27e62e"/>
<rect x="738.7" y="592.643" width="1.8" height="2.6" fill="#27e62e"/>
<rect x="756.5" y="596.686" width="3.8" height="3" fill="#27e62e"/>
<rect x="738.7" y="596.886" width="1.8" height="2.6" fill="#27e62e"/>
<rect x="756.5" y="600.929" width="3.8" height="3" fill="#27e62e"/>
<rect x="738.7" y="601.129" width="1.8" height="2.6" fill="#27e62e"/>
<rect x="756.5" y="605.172" width="3.8" height="3" fill="#27e62e"/>
<rect x="738.7" y="605.372" width="1.8" height="2.6" fill="#27e62e"/>
<rect x="756.5" y="609.415" width="3.8" height="3" fill="#27e62e"/>
<rect x="738.7" y="609.615" width="1.8" height="2.6" fill="#27e62e"/>
<rect x="756.5" y="613.658" width="3.8" height="3" fill="#27e62e"/>
<rect x="738.7" y="613.858" width="1.8" height="2.6" fill="#27e62e"/>
<rect x="756.5" y="617.901" width="3.8" height="3" fill="#27e62e"/>
<rect x="738.7" y="618.101" width="1.8" height="2.6" fill="#27e62e"/>
<rect x="741.2" y="584.9" width="1.6" height="1.8" fill="#27e62e"/>
<rect x="746.2" y="584.9" width="1.6" height="1.8" fill="#27e62e"/>
<rect x="752.2" y="584.9" width="1.6" height="1.8" fill="#27e62e"/>
<rect x="738.9" y="624.8" width="1.2" height="3.4" fill="#27e62e"/>
<rect x="745.1" y="639.9" width="4.9" height="8.8" rx="0" fill="none" stroke="#b9b9b9" stroke-width="0.8"/>
<path d="M747.5 648.7 L747.5 651.8" fill="none" stroke="#b9b9b9" stroke-width="0.85" />
<rect x="746.2" y="651.55" width="2.6" height="0.9" fill="#ccc"/>
<text transform="translate(749.5 636) scale(0.68 1)" font-size="3.432" fill="#1d9a2a" text-anchor="start" font-family="Liberation Sans,sans-serif">GND</text>
<rect x="767" y="583.8" width="21" height="92.5" rx="0" fill="none" stroke="#b9b9b9" stroke-width="0.9"/>
<text transform="translate(779.3 636) rotate(-90) scale(0.68 1)" font-size="7.656" fill="#1d9a2a" text-anchor="start" font-family="Liberation Sans,sans-serif">2764</text>
<text transform="translate(779.3 652) rotate(-90) scale(0.68 1)" font-size="6.072" fill="#1d9a2a" text-anchor="start" font-family="Liberation Sans,sans-serif">U4</text>
<rect x="765.9" y="588.2" width="3.4" height="3" fill="#27e62e"/>
<rect x="786.5" y="588.2" width="3.8" height="3" fill="#27e62e"/>
<path d="M763.4 589.7 L766 589.7" fill="none" stroke="#b9b9b9" stroke-width="0.75" />
<rect x="765.9" y="592.443" width="3.4" height="3" fill="#27e62e"/>
<rect x="786.5" y="592.443" width="3.8" height="3" fill="#27e62e"/>
<path d="M763.4 593.943 L766 593.943" fill="none" stroke="#b9b9b9" stroke-width="0.75" />
<rect x="765.9" y="596.686" width="3.4" height="3" fill="#27e62e"/>
<rect x="786.5" y="596.686" width="3.8" height="3" fill="#27e62e"/>
<path d="M763.4 598.186 L766 598.186" fill="none" stroke="#b9b9b9" stroke-width="0.75" />
<rect x="765.9" y="600.929" width="3.4" height="3" fill="#27e62e"/>
<rect x="786.5" y="600.929" width="3.8" height="3" fill="#27e62e"/>
<path d="M763.4 602.429 L766 602.429" fill="none" stroke="#b9b9b9" stroke-width="0.75" />
<rect x="765.9" y="605.172" width="3.4" height="3" fill="#27e62e"/>
<rect x="786.5" y="605.172" width="3.8" height="3" fill="#27e62e"/>
<path d="M763.4 606.672 L766 606.672" fill="none" stroke="#b9b9b9" stroke-width="0.75" />
<rect x="765.9" y="609.415" width="3.4" height="3" fill="#27e62e"/>
<rect x="786.5" y="609.415" width="3.8" height="3" fill="#27e62e"/>
<path d="M763.4 610.915 L766 610.915" fill="none" stroke="#b9b9b9" stroke-width="0.75" />
<rect x="765.9" y="613.658" width="3.4" height="3" fill="#27e62e"/>
<rect x="786.5" y="613.658" width="3.8" height="3" fill="#27e62e"/>
<path d="M763.4 615.158 L766 615.158" fill="none" stroke="#b9b9b9" stroke-width="0.75" />
<rect x="765.9" y="617.901" width="3.4" height="3" fill="#27e62e"/>
<rect x="786.5" y="617.901" width="3.8" height="3" fill="#27e62e"/>
<path d="M763.4 619.401 L766 619.401" fill="none" stroke="#b9b9b9" stroke-width="0.75" />
<path d="M763.4 589.3 L763.4 689.5" fill="none" stroke="#b9b9b9" stroke-width="0.8" />
<path d="M791 561.9 L791 620" fill="none" stroke="#b9b9b9" stroke-width="0.8" />
<rect x="766.3" y="656" width="3.4" height="2.8" fill="#27e62e"/>
<path d="M763.4 657.4 L766.4 657.4" fill="none" stroke="#b9b9b9" stroke-width="0.7" />
<rect x="766.3" y="659.65" width="3.4" height="2.8" fill="#27e62e"/>
<path d="M763.4 661.05 L766.4 661.05" fill="none" stroke="#b9b9b9" stroke-width="0.7" />
<rect x="766.3" y="663.3" width="3.4" height="2.8" fill="#27e62e"/>
<path d="M763.4 664.7 L766.4 664.7" fill="none" stroke="#b9b9b9" stroke-width="0.7" />
<rect x="766.3" y="666.95" width="3.4" height="2.8" fill="#27e62e"/>
<path d="M763.4 668.35 L766.4 668.35" fill="none" stroke="#b9b9b9" stroke-width="0.7" />
<rect x="766.3" y="670.6" width="3.4" height="2.8" fill="#27e62e"/>
<path d="M763.4 672 L766.4 672" fill="none" stroke="#b9b9b9" stroke-width="0.7" />
<rect x="772" y="584.3" width="2" height="2.2" fill="#27e62e"/>
<text transform="translate(771.5 580.6) scale(0.68 1)" font-size="3.432" fill="#1d9a2a" text-anchor="start" font-family="Liberation Sans,sans-serif">1</text>
<rect x="777" y="584.3" width="2" height="2.2" fill="#27e62e"/>
<text transform="translate(776.5 580.6) scale(0.68 1)" font-size="3.432" fill="#1d9a2a" text-anchor="start" font-family="Liberation Sans,sans-serif">1</text>
<text transform="translate(774 674.5) scale(0.68 1)" font-size="3.168" fill="#1d9a2a" text-anchor="start" font-family="Liberation Sans,sans-serif">GND</text>
<text transform="translate(774 681) scale(0.68 1)" font-size="3.432" fill="#1d9a2a" text-anchor="start" font-family="Liberation Sans,sans-serif">OE</text>
<rect x="798.2" y="583.8" width="20.6" height="92.5" rx="0" fill="none" stroke="#b9b9b9" stroke-width="0.9"/>
<text transform="translate(810.3 636) rotate(-90) scale(0.68 1)" font-size="7.656" fill="#1d9a2a" text-anchor="start" font-family="Liberation Sans,sans-serif">2764</text>
<text transform="translate(810.3 652) rotate(-90) scale(0.68 1)" font-size="6.072" fill="#1d9a2a" text-anchor="start" font-family="Liberation Sans,sans-serif">U5</text>
<rect x="797.1" y="588.2" width="3.4" height="3" fill="#27e62e"/>
<rect x="817.3" y="588.2" width="3.8" height="3" fill="#27e62e"/>
<path d="M795 589.7 L797.2 589.7" fill="none" stroke="#b9b9b9" stroke-width="0.75" />
<rect x="797.1" y="592.443" width="3.4" height="3" fill="#27e62e"/>
<rect x="817.3" y="592.443" width="3.8" height="3" fill="#27e62e"/>
<path d="M795 593.943 L797.2 593.943" fill="none" stroke="#b9b9b9" stroke-width="0.75" />
<rect x="797.1" y="596.686" width="3.4" height="3" fill="#27e62e"/>
<rect x="817.3" y="596.686" width="3.8" height="3" fill="#27e62e"/>
<path d="M795 598.186 L797.2 598.186" fill="none" stroke="#b9b9b9" stroke-width="0.75" />
<rect x="797.1" y="600.929" width="3.4" height="3" fill="#27e62e"/>
<rect x="817.3" y="600.929" width="3.8" height="3" fill="#27e62e"/>
<path d="M795 602.429 L797.2 602.429" fill="none" stroke="#b9b9b9" stroke-width="0.75" />
<rect x="797.1" y="605.172" width="3.4" height="3" fill="#27e62e"/>
<rect x="817.3" y="605.172" width="3.8" height="3" fill="#27e62e"/>
<path d="M795 606.672 L797.2 606.672" fill="none" stroke="#b9b9b9" stroke-width="0.75" />
<rect x="797.1" y="609.415" width="3.4" height="3" fill="#27e62e"/>
<rect x="817.3" y="609.415" width="3.8" height="3" fill="#27e62e"/>
<path d="M795 610.915 L797.2 610.915" fill="none" stroke="#b9b9b9" stroke-width="0.75" />
<rect x="797.1" y="613.658" width="3.4" height="3" fill="#27e62e"/>
<rect x="817.3" y="613.658" width="3.8" height="3" fill="#27e62e"/>
<path d="M795 615.158 L797.2 615.158" fill="none" stroke="#b9b9b9" stroke-width="0.75" />
<rect x="797.1" y="617.901" width="3.4" height="3" fill="#27e62e"/>
<rect x="817.3" y="617.901" width="3.8" height="3" fill="#27e62e"/>
<path d="M795 619.401 L797.2 619.401" fill="none" stroke="#b9b9b9" stroke-width="0.75" />
<path d="M795 589.3 L795 684.9" fill="none" stroke="#b9b9b9" stroke-width="0.8" />
<path d="M822.2 561.9 L822.2 620" fill="none" stroke="#b9b9b9" stroke-width="0.8" />
<rect x="797.5" y="656" width="3.4" height="2.8" fill="#27e62e"/>
<path d="M795 657.4 L797.6 657.4" fill="none" stroke="#b9b9b9" stroke-width="0.7" />
<rect x="797.5" y="659.65" width="3.4" height="2.8" fill="#27e62e"/>
<path d="M795 661.05 L797.6 661.05" fill="none" stroke="#b9b9b9" stroke-width="0.7" />
<rect x="797.5" y="663.3" width="3.4" height="2.8" fill="#27e62e"/>
<path d="M795 664.7 L797.6 664.7" fill="none" stroke="#b9b9b9" stroke-width="0.7" />
<rect x="797.5" y="666.95" width="3.4" height="2.8" fill="#27e62e"/>
<path d="M795 668.35 L797.6 668.35" fill="none" stroke="#b9b9b9" stroke-width="0.7" />
<rect x="797.5" y="670.6" width="3.4" height="2.8" fill="#27e62e"/>
<path d="M795 672 L797.6 672" fill="none" stroke="#b9b9b9" stroke-width="0.7" />
<rect x="803.2" y="584.3" width="2" height="2.2" fill="#27e62e"/>
<text transform="translate(802.7 580.6) scale(0.68 1)" font-size="3.432" fill="#1d9a2a" text-anchor="start" font-family="Liberation Sans,sans-serif">1</text>
<rect x="808.2" y="584.3" width="2" height="2.2" fill="#27e62e"/>
<text transform="translate(807.7 580.6) scale(0.68 1)" font-size="3.432" fill="#1d9a2a" text-anchor="start" font-family="Liberation Sans,sans-serif">1</text>
<text transform="translate(805.2 674.5) scale(0.68 1)" font-size="3.168" fill="#1d9a2a" text-anchor="start" font-family="Liberation Sans,sans-serif">GND</text>
<text transform="translate(805.2 681) scale(0.68 1)" font-size="3.432" fill="#1d9a2a" text-anchor="start" font-family="Liberation Sans,sans-serif">OE</text>
<rect x="829.3" y="583.8" width="20.7" height="92.5" rx="0" fill="none" stroke="#b9b9b9" stroke-width="0.9"/>
<text transform="translate(841.45 636) rotate(-90) scale(0.68 1)" font-size="7.656" fill="#1d9a2a" text-anchor="start" font-family="Liberation Sans,sans-serif">6264</text>
<text transform="translate(841.45 652) rotate(-90) scale(0.68 1)" font-size="6.072" fill="#1d9a2a" text-anchor="start" font-family="Liberation Sans,sans-serif">U6</text>
<rect x="828.2" y="588.2" width="3.4" height="3" fill="#27e62e"/>
<rect x="848.5" y="588.2" width="3.8" height="3" fill="#27e62e"/>
<path d="M826.2 589.7 L828.3 589.7" fill="none" stroke="#b9b9b9" stroke-width="0.75" />
<rect x="828.2" y="592.443" width="3.4" height="3" fill="#27e62e"/>
<rect x="848.5" y="592.443" width="3.8" height="3" fill="#27e62e"/>
<path d="M826.2 593.943 L828.3 593.943" fill="none" stroke="#b9b9b9" stroke-width="0.75" />
<rect x="828.2" y="596.686" width="3.4" height="3" fill="#27e62e"/>
<rect x="848.5" y="596.686" width="3.8" height="3" fill="#27e62e"/>
<path d="M826.2 598.186 L828.3 598.186" fill="none" stroke="#b9b9b9" stroke-width="0.75" />
<rect x="828.2" y="600.929" width="3.4" height="3" fill="#27e62e"/>
<rect x="848.5" y="600.929" width="3.8" height="3" fill="#27e62e"/>
<path d="M826.2 602.429 L828.3 602.429" fill="none" stroke="#b9b9b9" stroke-width="0.75" />
<rect x="828.2" y="605.172" width="3.4" height="3" fill="#27e62e"/>
<rect x="848.5" y="605.172" width="3.8" height="3" fill="#27e62e"/>
<path d="M826.2 606.672 L828.3 606.672" fill="none" stroke="#b9b9b9" stroke-width="0.75" />
<rect x="828.2" y="609.415" width="3.4" height="3" fill="#27e62e"/>
<rect x="848.5" y="609.415" width="3.8" height="3" fill="#27e62e"/>
<path d="M826.2 610.915 L828.3 610.915" fill="none" stroke="#b9b9b9" stroke-width="0.75" />
<rect x="828.2" y="613.658" width="3.4" height="3" fill="#27e62e"/>
<rect x="848.5" y="613.658" width="3.8" height="3" fill="#27e62e"/>
<path d="M826.2 615.158 L828.3 615.158" fill="none" stroke="#b9b9b9" stroke-width="0.75" />
<rect x="828.2" y="617.901" width="3.4" height="3" fill="#27e62e"/>
<rect x="848.5" y="617.901" width="3.8" height="3" fill="#27e62e"/>
<path d="M826.2 619.401 L828.3 619.401" fill="none" stroke="#b9b9b9" stroke-width="0.75" />
<path d="M826.2 589.3 L826.2 684.9" fill="none" stroke="#b9b9b9" stroke-width="0.8" />
<path d="M852.2 561.9 L852.2 620" fill="none" stroke="#b9b9b9" stroke-width="0.8" />
<rect x="828.6" y="656" width="3.4" height="2.8" fill="#27e62e"/>
<path d="M826.2 657.4 L828.7 657.4" fill="none" stroke="#b9b9b9" stroke-width="0.7" />
<rect x="828.6" y="659.65" width="3.4" height="2.8" fill="#27e62e"/>
<path d="M826.2 661.05 L828.7 661.05" fill="none" stroke="#b9b9b9" stroke-width="0.7" />
<rect x="828.6" y="663.3" width="3.4" height="2.8" fill="#27e62e"/>
<path d="M826.2 664.7 L828.7 664.7" fill="none" stroke="#b9b9b9" stroke-width="0.7" />
<rect x="828.6" y="666.95" width="3.4" height="2.8" fill="#27e62e"/>
<path d="M826.2 668.35 L828.7 668.35" fill="none" stroke="#b9b9b9" stroke-width="0.7" />
<rect x="828.6" y="670.6" width="3.4" height="2.8" fill="#27e62e"/>
<path d="M826.2 672 L828.7 672" fill="none" stroke="#b9b9b9" stroke-width="0.7" />
<rect x="834.3" y="584.3" width="2" height="2.2" fill="#27e62e"/>
<text transform="translate(833.8 580.6) scale(0.68 1)" font-size="3.432" fill="#1d9a2a" text-anchor="start" font-family="Liberation Sans,sans-serif">1</text>
<rect x="839.3" y="584.3" width="2" height="2.2" fill="#27e62e"/>
<text transform="translate(838.8 580.6) scale(0.68 1)" font-size="3.432" fill="#1d9a2a" text-anchor="start" font-family="Liberation Sans,sans-serif">1</text>
<text transform="translate(836.3 674.5) scale(0.68 1)" font-size="3.168" fill="#1d9a2a" text-anchor="start" font-family="Liberation Sans,sans-serif">GND</text>
<text transform="translate(836.3 681) scale(0.68 1)" font-size="3.432" fill="#1d9a2a" text-anchor="start" font-family="Liberation Sans,sans-serif">OE</text>
<path d="M760.3 589 L760.3 684.9 L826.2 684.9" fill="none" stroke="#b9b9b9" stroke-width="0.85" />
<rect x="787.8" y="644" width="5.4" height="6" rx="0" fill="none" stroke="#e0e0e0" stroke-width="0.9"/>
<rect x="788" y="640.3" width="2" height="1.8" fill="#27e62e"/>
<rect x="783.7" y="643.3" width="2.6" height="2.2" fill="#1d9a2a"/>
<rect x="783.3" y="647.7" width="3" height="2.2" fill="#1d9a2a"/>
<path d="M793.2 650 L793.2 653" fill="none" stroke="#b9b9b9" stroke-width="0.85" />
<rect x="792.7" y="652.8" width="1.4" height="1.2" fill="#ccc"/>
<rect x="818.8" y="644" width="5.4" height="6" rx="0" fill="none" stroke="#e0e0e0" stroke-width="0.9"/>
<rect x="819" y="640.3" width="2" height="1.8" fill="#27e62e"/>
<rect x="814.7" y="643.3" width="2.6" height="2.2" fill="#1d9a2a"/>
<rect x="814.3" y="647.7" width="3" height="2.2" fill="#1d9a2a"/>
<path d="M824.2 650 L824.2 653" fill="none" stroke="#b9b9b9" stroke-width="0.85" />
<rect x="823.7" y="652.8" width="1.4" height="1.2" fill="#ccc"/>
<path d="M850.2 644.8 L855 644.8 L855 651.6" fill="none" stroke="#b9b9b9" stroke-width="0.85" />
<rect x="854.2" y="651.5" width="1.6" height="1.4" fill="#ccc"/>
<rect x="844" y="642.4" width="4" height="3.2" fill="#1d9a2a"/>
<rect x="850.1" y="640" width="1.8" height="1.6" fill="#27e62e"/>
<rect x="836.6" y="677.3" width="2" height="2.2" fill="#27e62e"/>
<rect x="840" y="677.3" width="2" height="2.2" fill="#27e62e"/>
<path d="M837.6 676.4 L837.6 701.3" fill="none" stroke="#b9b9b9" stroke-width="0.7" />
<path d="M841 676.4 L841 709.1" fill="none" stroke="#b9b9b9" stroke-width="0.7" />
<rect x="878" y="563.3" width="17.7" height="162.3" rx="0" fill="none" stroke="#b9b9b9" stroke-width="0.9"/>
<text transform="translate(888.5 662) rotate(-90) scale(0.68 1)" font-size="4.488" fill="#1d9a2a" text-anchor="start" font-family="Liberation Sans,sans-serif">U7 8155</text>
<rect x="874.2" y="568" width="5.4" height="35" rx="0" fill="none" stroke="#b9b9b9" stroke-width="0.8"/>
<rect x="874.8" y="569.2" width="3.6" height="2.8" fill="#27e62e"/>
<rect x="873" y="571" width="1.2" height="1.6" fill="#27e62e"/>
<rect x="874.8" y="573.5" width="3.6" height="2.8" fill="#27e62e"/>
<rect x="873" y="575.3" width="1.2" height="1.6" fill="#27e62e"/>
<rect x="874.8" y="577.8" width="3.6" height="2.8" fill="#27e62e"/>
<rect x="873" y="579.6" width="1.2" height="1.6" fill="#27e62e"/>
<rect x="874.8" y="582.1" width="3.6" height="2.8" fill="#27e62e"/>
<rect x="873" y="583.9" width="1.2" height="1.6" fill="#27e62e"/>
<rect x="874.8" y="586.4" width="3.6" height="2.8" fill="#27e62e"/>
<rect x="873" y="588.2" width="1.2" height="1.6" fill="#27e62e"/>
<rect x="874.8" y="590.7" width="3.6" height="2.8" fill="#27e62e"/>
<rect x="873" y="592.5" width="1.2" height="1.6" fill="#27e62e"/>
<rect x="874.8" y="595" width="3.6" height="2.8" fill="#27e62e"/>
<rect x="873" y="596.8" width="1.2" height="1.6" fill="#27e62e"/>
<rect x="874.8" y="599.3" width="3.6" height="2.8" fill="#27e62e"/>
<rect x="873" y="601.1" width="1.2" height="1.6" fill="#27e62e"/>
<rect x="881.1" y="564.4" width="1.8" height="4" fill="#27e62e"/>
<rect x="880.7" y="561" width="1.4" height="1.6" fill="#27e62e"/>
<rect x="884.1" y="564.4" width="1.8" height="4" fill="#27e62e"/>
<rect x="883.7" y="561" width="1.4" height="1.6" fill="#27e62e"/>
<rect x="887.3" y="564.4" width="1.8" height="4" fill="#27e62e"/>
<rect x="886.9" y="561" width="1.4" height="1.6" fill="#27e62e"/>
<rect x="890.3" y="564.4" width="1.8" height="4" fill="#27e62e"/>
<rect x="889.9" y="561" width="1.4" height="1.6" fill="#27e62e"/>
<path d="M888.2 563 L888.2 553.6" fill="none" stroke="#b9b9b9" stroke-width="0.85" />
<path d="M891.2 563 L891.2 552.4" fill="none" stroke="#b9b9b9" stroke-width="0.85" />
<rect x="887.4" y="552.6" width="1.6" height="1.4" fill="#ddd"/>
<rect x="891.6" y="550.9" width="1.6" height="1.4" fill="#27e62e"/>
<path d="M873.7 568 L873.7 544.5 L926 544.5 L926 607" fill="none" stroke="#b9b9b9" stroke-width="0.85" />
<path d="M895.7 577.3 L904.9 577.3" fill="none" stroke="#b9b9b9" stroke-width="0.85" />
<rect x="896.1" y="574.4" width="3" height="2.6" fill="#27e62e"/>
<rect x="892.8" y="576.3" width="1.6" height="2" fill="#27e62e"/>
<path d="M895.7 584.5 L904.9 584.5" fill="none" stroke="#b9b9b9" stroke-width="0.85" />
<rect x="896.1" y="581.6" width="3" height="2.6" fill="#27e62e"/>
<rect x="892.8" y="583.5" width="1.6" height="2" fill="#27e62e"/>
<path d="M895.7 590.4 L904.9 590.4" fill="none" stroke="#b9b9b9" stroke-width="0.85" />
<rect x="896.1" y="587.5" width="3" height="2.6" fill="#27e62e"/>
<rect x="892.8" y="589.4" width="1.6" height="2" fill="#27e62e"/>
<path d="M895.7 596.2 L904.9 596.2" fill="none" stroke="#b9b9b9" stroke-width="0.85" />
<rect x="896.1" y="593.3" width="3" height="2.6" fill="#27e62e"/>
<rect x="892.8" y="595.2" width="1.6" height="2" fill="#27e62e"/>
<path d="M895.7 601 L904.9 601" fill="none" stroke="#b9b9b9" stroke-width="0.85" />
<rect x="896.1" y="598.1" width="3" height="2.6" fill="#27e62e"/>
<rect x="892.8" y="600" width="1.6" height="2" fill="#27e62e"/>
<rect x="897" y="573.8" width="3" height="1.6" fill="#27e62e"/>
<rect x="904.9" y="576.7" width="4.5" height="37.7" rx="0" fill="none" stroke="#b9b9b9" stroke-width="0.9"/>
<text transform="translate(908.4 606) rotate(-90) scale(0.68 1)" font-size="3.432" fill="#1d9a2a" text-anchor="start" font-family="Liberation Sans,sans-serif">74LS</text>
<path d="M909.4 579.5 L912.5 579.5 L918 590" fill="none" stroke="#b9b9b9" stroke-width="0.85" />
<path d="M909.4 611 L912.5 611 L918 600.5" fill="none" stroke="#b9b9b9" stroke-width="0.85" />
<ellipse cx="920.8" cy="595.3" rx="3.4" ry="6" fill="none" stroke="#c8c8c8" stroke-width="0.9"/>
<rect x="919" y="594.1" width="3.6" height="3" fill="#27e62e"/>
<path d="M861 623.3 L878 623.3" fill="none" stroke="#b9b9b9" stroke-width="0.85" />
<path d="M861.5 665.6 L878 665.6" fill="none" stroke="#b9b9b9" stroke-width="0.85" />
<text transform="translate(867 629.5) scale(0.68 1)" font-size="3.96" fill="#27e62e" text-anchor="start" font-family="Liberation Sans,sans-serif">IO/M</text>
<text transform="translate(867 663.6) scale(0.68 1)" font-size="3.96" fill="#27e62e" text-anchor="start" font-family="Liberation Sans,sans-serif">CE</text>
<text transform="translate(867 670.6) scale(0.68 1)" font-size="3.432" fill="#1d9a2a" text-anchor="start" font-family="Liberation Sans,sans-serif">RESET</text>
<rect x="879.7" y="623.6" width="1.4" height="2" fill="#27e62e"/>
<rect x="879.8" y="663.2" width="1.6" height="2.4" fill="#27e62e"/>
<rect x="879.5" y="688.1" width="1.4" height="3" fill="#27e62e"/>
<rect x="878.9" y="699.5" width="1.4" height="3" fill="#27e62e"/>
<rect x="878.9" y="707.9" width="1.4" height="3" fill="#27e62e"/>
<path d="M895.7 625.2 L911.7 625.2" fill="none" stroke="#b9b9b9" stroke-width="0.8" />
<rect x="893.3" y="624.5" width="2.6" height="2.6" fill="#27e62e"/>
<path d="M895.7 629.88 L911.7 629.88" fill="none" stroke="#b9b9b9" stroke-width="0.8" />
<rect x="893.3" y="629.18" width="2.6" height="2.6" fill="#27e62e"/>
<path d="M895.7 634.56 L911.7 634.56" fill="none" stroke="#b9b9b9" stroke-width="0.8" />
<rect x="893.3" y="633.86" width="2.6" height="2.6" fill="#27e62e"/>
<path d="M895.7 639.24 L911.7 639.24" fill="none" stroke="#b9b9b9" stroke-width="0.8" />
<rect x="893.3" y="638.54" width="2.6" height="2.6" fill="#27e62e"/>
<path d="M895.7 643.92 L911.7 643.92" fill="none" stroke="#b9b9b9" stroke-width="0.8" />
<rect x="893.3" y="643.22" width="2.6" height="2.6" fill="#27e62e"/>
<path d="M895.7 648.6 L911.7 648.6" fill="none" stroke="#b9b9b9" stroke-width="0.8" />
<rect x="893.3" y="647.9" width="2.6" height="2.6" fill="#27e62e"/>
<path d="M895.7 653.28 L911.7 653.28" fill="none" stroke="#b9b9b9" stroke-width="0.8" />
<rect x="893.3" y="652.58" width="2.6" height="2.6" fill="#27e62e"/>
<path d="M895.7 657.96 L911.7 657.96" fill="none" stroke="#b9b9b9" stroke-width="0.8" />
<rect x="893.3" y="657.26" width="2.6" height="2.6" fill="#27e62e"/>
<path d="M898.6 625.2 L898.6 636" fill="none" stroke="#aaa" stroke-width="0.6" />
<path d="M900.8 625.2 L900.8 636" fill="none" stroke="#aaa" stroke-width="0.6" />
<path d="M903 625.2 L903 636" fill="none" stroke="#aaa" stroke-width="0.6" />
<path d="M905.2 625.2 L905.2 636" fill="none" stroke="#aaa" stroke-width="0.6" />
<path d="M907.4 625.2 L907.4 636" fill="none" stroke="#aaa" stroke-width="0.6" />
<path d="M909.6 625.2 L909.6 636" fill="none" stroke="#aaa" stroke-width="0.6" />
<rect x="912.2" y="624.5" width="2" height="1.4" fill="#27e62e"/>
<path d="M910.7 633 L920.5 644.8 L920.5 648.6" fill="none" stroke="#b9b9b9" stroke-width="0.8" />
<rect x="919.8" y="648.3" width="1.4" height="1.4" fill="#ccc"/>
<rect x="912.8" y="632.8" width="1.6" height="1.6" fill="#1d9a2a"/>
<path d="M895.7 664.3 L911.7 664.3" fill="none" stroke="#b9b9b9" stroke-width="0.8" />
<rect x="893.3" y="663.4" width="2.6" height="2.6" fill="#27e62e"/>
<path d="M907.5 667.3 L911.5 665.3" fill="none" stroke="#ddd" stroke-width="0.7" />
<rect x="912.1" y="664.5" width="1.4" height="2.4" fill="#27e62e"/>
<path d="M895.7 669.58 L911.7 669.58" fill="none" stroke="#b9b9b9" stroke-width="0.8" />
<rect x="893.3" y="668.68" width="2.6" height="2.6" fill="#27e62e"/>
<path d="M907.5 672.58 L911.5 670.58" fill="none" stroke="#ddd" stroke-width="0.7" />
<rect x="912.1" y="669.78" width="1.4" height="2.4" fill="#27e62e"/>
<path d="M895.7 674.86 L911.7 674.86" fill="none" stroke="#b9b9b9" stroke-width="0.8" />
<rect x="893.3" y="673.96" width="2.6" height="2.6" fill="#27e62e"/>
<path d="M907.5 677.86 L911.5 675.86" fill="none" stroke="#ddd" stroke-width="0.7" />
<rect x="912.1" y="675.06" width="1.4" height="2.4" fill="#27e62e"/>
<path d="M895.7 680.14 L911.7 680.14" fill="none" stroke="#b9b9b9" stroke-width="0.8" />
<rect x="893.3" y="679.24" width="2.6" height="2.6" fill="#27e62e"/>
<path d="M907.5 683.14 L911.5 681.14" fill="none" stroke="#ddd" stroke-width="0.7" />
<rect x="912.1" y="680.34" width="1.4" height="2.4" fill="#27e62e"/>
<path d="M895.7 685.42 L911.7 685.42" fill="none" stroke="#b9b9b9" stroke-width="0.8" />
<rect x="893.3" y="684.52" width="2.6" height="2.6" fill="#27e62e"/>
<path d="M907.5 688.42 L911.5 686.42" fill="none" stroke="#ddd" stroke-width="0.7" />
<rect x="912.1" y="685.62" width="1.4" height="2.4" fill="#27e62e"/>
<path d="M895.7 690.7 L911.7 690.7" fill="none" stroke="#b9b9b9" stroke-width="0.8" />
<rect x="893.3" y="689.8" width="2.6" height="2.6" fill="#27e62e"/>
<path d="M907.5 693.7 L911.5 691.7" fill="none" stroke="#ddd" stroke-width="0.7" />
<rect x="912.1" y="690.9" width="1.4" height="2.4" fill="#27e62e"/>
<path d="M895.7 695.98 L911.7 695.98" fill="none" stroke="#b9b9b9" stroke-width="0.8" />
<rect x="893.3" y="695.08" width="2.6" height="2.6" fill="#27e62e"/>
<path d="M895.7 701.26 L911.7 701.26" fill="none" stroke="#b9b9b9" stroke-width="0.8" />
<rect x="893.3" y="700.36" width="2.6" height="2.6" fill="#27e62e"/>
<path d="M898.6 664.3 L898.6 675" fill="none" stroke="#aaa" stroke-width="0.6" />
<path d="M900.8 664.3 L900.8 675" fill="none" stroke="#aaa" stroke-width="0.6" />
<path d="M903 664.3 L903 675" fill="none" stroke="#aaa" stroke-width="0.6" />
<path d="M905.2 664.3 L905.2 675" fill="none" stroke="#aaa" stroke-width="0.6" />
<path d="M907.4 664.3 L907.4 675" fill="none" stroke="#aaa" stroke-width="0.6" />
<path d="M909.6 664.3 L909.6 675" fill="none" stroke="#aaa" stroke-width="0.6" />
<path d="M912.6 672 L912.6 701.3" fill="none" stroke="#b9b9b9" stroke-width="0.7" />
<rect x="904" y="694.7" width="4.4" height="2.2" fill="#27e62e"/>
<rect x="903.9" y="700.1" width="5" height="2.6" fill="#27e62e"/>
<rect x="934.7" y="567.6" width="14.5" height="190.5" rx="0" fill="none" stroke="#b9b9b9" stroke-width="0.9"/>
<text transform="translate(943.6 652) rotate(-90) scale(0.68 1)" font-size="4.224" fill="#1d9a2a" text-anchor="start" font-family="Liberation Sans,sans-serif">U8 8255</text>
<rect x="937.5" y="568.4" width="1.8" height="4.4" fill="#27e62e"/>
<rect x="937.2" y="564.9" width="1.6" height="1.4" fill="#27e62e"/>
<rect x="941.1" y="568.4" width="1.8" height="4.4" fill="#27e62e"/>
<rect x="940.8" y="564.9" width="1.6" height="1.4" fill="#27e62e"/>
<rect x="945.1" y="568.4" width="1.8" height="4.4" fill="#27e62e"/>
<rect x="944.8" y="564.9" width="1.6" height="1.4" fill="#27e62e"/>
<path d="M942.9 567.5 L942.9 546.8" fill="none" stroke="#b9b9b9" stroke-width="0.85" />
<path d="M946.8 567.5 L946.8 545.6" fill="none" stroke="#b9b9b9" stroke-width="0.85" />
<rect x="942.1" y="545.8" width="1.6" height="1.4" fill="#ddd"/>
<rect x="946.8" y="544.3" width="1.6" height="1.4" fill="#27e62e"/>
<path d="M925.4 576.1 L934.7 576.1" fill="none" stroke="#b9b9b9" stroke-width="0.85" />
<rect x="935.5" y="575.6" width="1.8" height="2.6" fill="#27e62e"/>
<path d="M925.4 581.6 L934.7 581.6" fill="none" stroke="#b9b9b9" stroke-width="0.85" />
<rect x="935.5" y="581.1" width="1.8" height="2.6" fill="#27e62e"/>
<path d="M925.4 587.4 L934.7 587.4" fill="none" stroke="#b9b9b9" stroke-width="0.85" />
<rect x="935.5" y="586.9" width="1.8" height="2.6" fill="#27e62e"/>
<path d="M925.4 593.3 L934.7 593.3" fill="none" stroke="#b9b9b9" stroke-width="0.85" />
<rect x="935.5" y="592.8" width="1.8" height="2.6" fill="#27e62e"/>
<path d="M925.4 599.1 L934.7 599.1" fill="none" stroke="#b9b9b9" stroke-width="0.85" />
<rect x="935.5" y="598.6" width="1.8" height="2.6" fill="#27e62e"/>
<path d="M925.4 605 L934.7 605" fill="none" stroke="#b9b9b9" stroke-width="0.85" />
<rect x="935.5" y="604.5" width="1.8" height="2.6" fill="#27e62e"/>
<path d="M925.4 576.1 L925.4 607" fill="none" stroke="#b9b9b9" stroke-width="0.85" />
<path d="M949.2 577.7 L985 577.7" fill="none" stroke="#b9b9b9" stroke-width="0.8" />
<rect x="946.4" y="577.1" width="1.6" height="2.4" fill="#27e62e"/>
<path d="M949.2 584.5 L985 584.5" fill="none" stroke="#b9b9b9" stroke-width="0.8" />
<rect x="946.4" y="583.9" width="1.6" height="2.4" fill="#27e62e"/>
<path d="M949.2 590.4 L985 590.4" fill="none" stroke="#b9b9b9" stroke-width="0.8" />
<rect x="946.4" y="589.8" width="1.6" height="2.4" fill="#27e62e"/>
<path d="M949.2 596.2 L985 596.2" fill="none" stroke="#b9b9b9" stroke-width="0.8" />
<rect x="946.4" y="595.6" width="1.6" height="2.4" fill="#27e62e"/>
<path d="M949.2 602 L985 602" fill="none" stroke="#b9b9b9" stroke-width="0.8" />
<rect x="946.4" y="601.4" width="1.6" height="2.4" fill="#27e62e"/>
<path d="M949.2 608.9 L985 608.9" fill="none" stroke="#b9b9b9" stroke-width="0.8" />
<rect x="946.4" y="608.3" width="1.6" height="2.4" fill="#27e62e"/>
<rect x="962.4" y="575.3" width="4.3" height="35.6" rx="0" fill="none" stroke="#b9b9b9" stroke-width="0.9"/>
<rect x="974.7" y="575.3" width="4.3" height="35.6" rx="0" fill="none" stroke="#b9b9b9" stroke-width="0.9"/>
<rect x="963.9" y="584" width="1.4" height="12" fill="#27e62e"/>
<rect x="976.1" y="583.5" width="1.6" height="13" fill="#27e62e"/>
<path d="M979 576.5 L985 576.5 L990 580" fill="none" stroke="#b9b9b9" stroke-width="0.8" />
<path d="M979 594.5 L985 594.5 L989.5 591.5" fill="none" stroke="#b9b9b9" stroke-width="0.8" />
<path d="M979 597.5 L985 597.5 L989.5 600.5" fill="none" stroke="#b9b9b9" stroke-width="0.8" />
<path d="M979 610 L985 610 L990 611.6" fill="none" stroke="#b9b9b9" stroke-width="0.8" />
<ellipse cx="992" cy="585.9" rx="3.8" ry="6.6" fill="none" stroke="#cfcfcf" stroke-width="0.9"/><ellipse cx="992" cy="606" rx="3.8" ry="6.6" fill="none" stroke="#cfcfcf" stroke-width="0.9"/>
<rect x="990" y="584.4" width="4" height="3.6" fill="#27e62e"/>
<rect x="990" y="604.4" width="4" height="3.6" fill="#27e62e"/>
<path d="M954.2 630.1 L979 630.1" fill="none" stroke="#b9b9b9" stroke-width="0.85" />
<rect x="977.5" y="628.6" width="3" height="3" fill="#27e62e"/>
<path d="M954.2 630.1 L954.2 712.1" fill="none" stroke="#b9b9b9" stroke-width="0.8" />
<rect x="953" y="639.9" width="2.4" height="6.8" rx="0" fill="none" stroke="#ddd" stroke-width="0.8"/>
<path d="M960.1 630.1 L960.1 693.9" fill="none" stroke="#b9b9b9" stroke-width="0.8" />
<rect x="958.9" y="639.9" width="2.4" height="6.8" rx="0" fill="none" stroke="#ddd" stroke-width="0.8"/>
<path d="M965.4 630.1 L965.4 674.4" fill="none" stroke="#b9b9b9" stroke-width="0.8" />
<rect x="964.2" y="639.9" width="2.4" height="6.8" rx="0" fill="none" stroke="#ddd" stroke-width="0.8"/>
<path d="M971.2 630.1 L971.2 657.4" fill="none" stroke="#b9b9b9" stroke-width="0.8" />
<rect x="970" y="639.9" width="2.4" height="6.8" rx="0" fill="none" stroke="#ddd" stroke-width="0.8"/>
<rect x="972.2" y="640" width="6.8" height="3.6" fill="#27e62e"/>
<text transform="translate(982 640.5) scale(0.68 1)" font-size="3.96" fill="#1d9a2a" text-anchor="start" font-family="Liberation Sans,sans-serif">R X4</text>
<path d="M949.2 657.4 L977 657.4" fill="none" stroke="#b9b9b9" stroke-width="0.85" />
<path d="M975.1 657.4 L975.1 647.1 L991.7 647.1 L991.7 657.4 L995.6 657.4" fill="none" stroke="#b9b9b9" stroke-width="0.85" />
<path d="M977 657.4 L984.5 651.2" fill="none" stroke="#b9b9b9" stroke-width="0.85" />
<path d="M984 644.9 L984 650.1" fill="none" stroke="#b9b9b9" stroke-width="0.9" />
<path d="M986.5 657.4 L991.7 657.4" fill="none" stroke="#b9b9b9" stroke-width="0.85" />
<rect x="946.3" y="654.9" width="2.2" height="3" fill="#27e62e"/>
<rect x="951.2" y="654" width="1.2" height="2" fill="#27e62e"/>
<path d="M949.2 674.4 L977 674.4" fill="none" stroke="#b9b9b9" stroke-width="0.85" />
<path d="M975.1 674.4 L975.1 664.3 L991.7 664.3 L991.7 674.4 L995.6 674.4" fill="none" stroke="#b9b9b9" stroke-width="0.85" />
<path d="M977 674.4 L984.5 668.2" fill="none" stroke="#b9b9b9" stroke-width="0.85" />
<path d="M984 662.1 L984 667.3" fill="none" stroke="#b9b9b9" stroke-width="0.9" />
<path d="M986.5 674.4 L991.7 674.4" fill="none" stroke="#b9b9b9" stroke-width="0.85" />
<rect x="946.3" y="671.9" width="2.2" height="3" fill="#27e62e"/>
<rect x="951.2" y="671" width="1.2" height="2" fill="#27e62e"/>
<path d="M949.2 693.9 L977 693.9" fill="none" stroke="#b9b9b9" stroke-width="0.85" />
<path d="M975.1 693.9 L975.1 683.2 L991.7 683.2 L991.7 693.9 L995.6 693.9" fill="none" stroke="#b9b9b9" stroke-width="0.85" />
<path d="M977 693.9 L984.5 687.7" fill="none" stroke="#b9b9b9" stroke-width="0.85" />
<path d="M984 681 L984 686.2" fill="none" stroke="#b9b9b9" stroke-width="0.9" />
<path d="M986.5 693.9 L991.7 693.9" fill="none" stroke="#b9b9b9" stroke-width="0.85" />
<rect x="946.3" y="691.4" width="2.2" height="3" fill="#27e62e"/>
<rect x="951.2" y="690.5" width="1.2" height="2" fill="#27e62e"/>
<path d="M949.2 712.1 L977 712.1" fill="none" stroke="#b9b9b9" stroke-width="0.85" />
<path d="M975.1 712.1 L975.1 702.7 L991.7 702.7 L991.7 712.1 L995.6 712.1" fill="none" stroke="#b9b9b9" stroke-width="0.85" />
<path d="M977 712.1 L984.5 705.9" fill="none" stroke="#b9b9b9" stroke-width="0.85" />
<path d="M984 700.5 L984 705.7" fill="none" stroke="#b9b9b9" stroke-width="0.9" />
<path d="M986.5 712.1 L991.7 712.1" fill="none" stroke="#b9b9b9" stroke-width="0.85" />
<rect x="946.3" y="709.6" width="2.2" height="3" fill="#27e62e"/>
<rect x="951.2" y="708.7" width="1.2" height="2" fill="#27e62e"/>
<path d="M995.6 657.4 L995.6 735.3" fill="none" stroke="#b9b9b9" stroke-width="0.85" />
<rect x="994.7" y="734.7" width="1.8" height="1.8" fill="#ccc"/>
<path d="M949.2 728.8 L965.4 728.8" fill="none" stroke="#b9b9b9" stroke-width="0.85" />
<rect x="965.4" y="728.2" width="6" height="4.4" fill="#27e62e"/>
<text transform="translate(965.4 726) scale(0.68 1)" font-size="3.432" fill="#1d9a2a" text-anchor="start" font-family="Liberation Sans,sans-serif">GND</text>
<rect x="946.1" y="726.8" width="1.4" height="2.4" fill="#27e62e"/>
<rect x="936.8" y="755.7" width="2.4" height="2.6" fill="#27e62e"/>
<rect x="939.8" y="755.7" width="2.4" height="2.6" fill="#27e62e"/>
<rect x="942.4" y="755.7" width="2.4" height="2.6" fill="#27e62e"/>
<rect x="945.6" y="755.7" width="2.4" height="2.6" fill="#27e62e"/>
<path d="M795 772.3 L938 772.3 L938 758.1" fill="none" stroke="#b9b9b9" stroke-width="0.85" />
<circle cx="792.6" cy="772.5" r="2.1" fill="#1b1e24" stroke="#d6d6d6" stroke-width="0.9"/>
<path d="M795 777 L941 777 L941 758.1" fill="none" stroke="#b9b9b9" stroke-width="0.85" />
<circle cx="792.6" cy="777.2" r="2.1" fill="#1b1e24" stroke="#d6d6d6" stroke-width="0.9"/>
<path d="M795 781.5 L943.6 781.5 L943.6 758.1" fill="none" stroke="#b9b9b9" stroke-width="0.85" />
<circle cx="792.6" cy="781.7" r="2.1" fill="#1b1e24" stroke="#d6d6d6" stroke-width="0.9"/>
<path d="M795 787.4 L946.8 787.4 L946.8 758.1" fill="none" stroke="#b9b9b9" stroke-width="0.85" />
<circle cx="792.6" cy="786.6" r="2.1" fill="#1b1e24" stroke="#d6d6d6" stroke-width="0.9"/>
<path d="M784.1 772.3 L784.1 787.4" fill="none" stroke="#b9b9b9" stroke-width="0.85" />
<path d="M788 772.3 L788 787.4" fill="none" stroke="#b9b9b9" stroke-width="0.7" />
<path d="M784.1 772.3 L790.4 772.3" fill="none" stroke="#b9b9b9" stroke-width="0.8" />
<path d="M784.1 777 L790.4 777" fill="none" stroke="#b9b9b9" stroke-width="0.8" />
<path d="M784.1 781.5 L790.4 781.5" fill="none" stroke="#b9b9b9" stroke-width="0.8" />
<text transform="translate(788 765.6) scale(0.68 1)" font-size="5.544" fill="#1d9a2a" text-anchor="start" font-family="Liberation Sans,sans-serif">LED X4</text>
<path d="M733.4 787.4 L790.5 787.4" fill="none" stroke="#b9b9b9" stroke-width="0.85" />
<circle cx="732.4" cy="787.4" r="1.3" fill="none" stroke="#ddd" stroke-width="0.8"/>
<text transform="translate(731 781) rotate(-90) scale(0.68 1)" font-size="4.752" fill="#1d9a2a" text-anchor="start" font-family="Liberation Sans,sans-serif">+5V</text>
<path d="M738.7 787.4 L738.7 871.3" fill="none" stroke="#b9b9b9" stroke-width="0.8" />
<rect x="737.6" y="797.1" width="2.2" height="5.9" rx="0" fill="#1b1e24" stroke="#d4d4d4" stroke-width="0.8"/>
<path d="M744.3 787.4 L744.3 865" fill="none" stroke="#b9b9b9" stroke-width="0.8" />
<rect x="743.2" y="797.1" width="2.2" height="5.9" rx="0" fill="#1b1e24" stroke="#d4d4d4" stroke-width="0.8"/>
<path d="M750.2 787.4 L750.2 858.6" fill="none" stroke="#b9b9b9" stroke-width="0.8" />
<rect x="749.1" y="797.1" width="2.2" height="5.9" rx="0" fill="#1b1e24" stroke="#d4d4d4" stroke-width="0.8"/>
<path d="M755.9 787.4 L755.9 852.1" fill="none" stroke="#b9b9b9" stroke-width="0.8" />
<rect x="754.8" y="797.1" width="2.2" height="5.9" rx="0" fill="#1b1e24" stroke="#d4d4d4" stroke-width="0.8"/>
<path d="M761.5 787.4 L761.5 845.5" fill="none" stroke="#b9b9b9" stroke-width="0.8" />
<rect x="760.4" y="797.1" width="2.2" height="5.9" rx="0" fill="#1b1e24" stroke="#d4d4d4" stroke-width="0.8"/>
<path d="M767.2 787.4 L767.2 839.5" fill="none" stroke="#b9b9b9" stroke-width="0.8" />
<rect x="766.1" y="797.1" width="2.2" height="5.9" rx="0" fill="#1b1e24" stroke="#d4d4d4" stroke-width="0.8"/>
<path d="M772.8 787.4 L772.8 832.8" fill="none" stroke="#b9b9b9" stroke-width="0.8" />
<rect x="771.7" y="797.1" width="2.2" height="5.9" rx="0" fill="#1b1e24" stroke="#d4d4d4" stroke-width="0.8"/>
<path d="M778.3 787.4 L778.3 826" fill="none" stroke="#b9b9b9" stroke-width="0.8" />
<rect x="777.2" y="797.1" width="2.2" height="5.9" rx="0" fill="#1b1e24" stroke="#d4d4d4" stroke-width="0.8"/>
<text transform="translate(782 805.6) scale(0.68 1)" font-size="6.6" fill="#27e62e" text-anchor="start" font-family="Liberation Sans,sans-serif">560Ω X8</text>
<path d="M675.3 745.4 L645.2 745.4 L645.2 871.3 L933.8 871.3 L933.8 802.4" fill="none" stroke="#b9b9b9" stroke-width="0.85" />
<rect x="675.8" y="743.7" width="1.6" height="3.4" fill="#27e62e"/>
<path d="M713.8 869.9 L716.6 871.3 L713.8 872.7 Z" fill="#1b1e24" stroke="#ddd" stroke-width="0.7"/>
<path d="M675.3 749.9 L648.9 749.9 L648.9 865 L931.4 865 L931.4 802.4" fill="none" stroke="#b9b9b9" stroke-width="0.85" />
<rect x="675.8" y="748.2" width="1.6" height="3.4" fill="#27e62e"/>
<path d="M713.8 863.6 L716.6 865 L713.8 866.4 Z" fill="#1b1e24" stroke="#ddd" stroke-width="0.7"/>
<path d="M675.3 754.2 L651.5 754.2 L651.5 858.6 L929 858.6 L929 802.4" fill="none" stroke="#b9b9b9" stroke-width="0.85" />
<rect x="675.8" y="752.5" width="1.6" height="3.4" fill="#27e62e"/>
<path d="M713.8 857.2 L716.6 858.6 L713.8 860 Z" fill="#1b1e24" stroke="#ddd" stroke-width="0.7"/>
<path d="M675.3 758.5 L654.4 758.5 L654.4 852.1 L926.6 852.1 L926.6 802.4" fill="none" stroke="#b9b9b9" stroke-width="0.85" />
<rect x="675.8" y="756.8" width="1.6" height="3.4" fill="#27e62e"/>
<path d="M713.8 850.7 L716.6 852.1 L713.8 853.5 Z" fill="#1b1e24" stroke="#ddd" stroke-width="0.7"/>
<path d="M675.3 763 L658.9 763 L658.9 845.5 L924.2 845.5 L924.2 802.4" fill="none" stroke="#b9b9b9" stroke-width="0.85" />
<rect x="675.8" y="761.3" width="1.6" height="3.4" fill="#27e62e"/>
<path d="M713.8 844.1 L716.6 845.5 L713.8 846.9 Z" fill="#1b1e24" stroke="#ddd" stroke-width="0.7"/>
<path d="M675.3 767.3 L663.2 767.3 L663.2 839.5 L921.8 839.5 L921.8 802.4" fill="none" stroke="#b9b9b9" stroke-width="0.85" />
<rect x="675.8" y="765.6" width="1.6" height="3.4" fill="#27e62e"/>
<path d="M713.8 838.1 L716.6 839.5 L713.8 840.9 Z" fill="#1b1e24" stroke="#ddd" stroke-width="0.7"/>
<path d="M675.3 771.4 L667.5 771.4 L667.5 832.8 L919.4 832.8 L919.4 802.4" fill="none" stroke="#b9b9b9" stroke-width="0.85" />
<rect x="675.8" y="769.7" width="1.6" height="3.4" fill="#27e62e"/>
<path d="M713.8 831.4 L716.6 832.8 L713.8 834.2 Z" fill="#1b1e24" stroke="#ddd" stroke-width="0.7"/>
<path d="M675.3 775.7 L672 775.7 L672 826 L917 826 L917 802.4" fill="none" stroke="#b9b9b9" stroke-width="0.85" />
<rect x="675.8" y="774" width="1.6" height="3.4" fill="#27e62e"/>
<path d="M713.8 824.6 L716.6 826 L713.8 827.4 Z" fill="#1b1e24" stroke="#ddd" stroke-width="0.7"/>
<rect x="675.6" y="768.9" width="3.6" height="4.6" fill="#27e62e"/>
<text transform="translate(709.4 818) scale(0.68 1)" font-size="4.752" fill="#1d9a2a" text-anchor="start" font-family="Liberation Sans,sans-serif">DL0N 1</text>
<rect x="725.3" y="818.1" width="1.4" height="3" fill="#27e62e"/>
<path d="M660.8 736.6 L675.3 736.6" fill="none" stroke="#b9b9b9" stroke-width="0.85" />
<text transform="translate(646.8 738) scale(0.68 1)" font-size="4.224" fill="#1d9a2a" text-anchor="start" font-family="Liberation Sans,sans-serif">RESET</text>
<rect x="660.2" y="735.5" width="0.8" height="2.6" fill="#bbb"/>
<rect x="672.8" y="733.2" width="1.2" height="2" fill="#27e62e"/>
<rect x="916.2" y="795.8" width="18.5" height="6.6" rx="0" fill="#27e62e" stroke="#b9b9b9" stroke-width="0"/>
<rect x="916.8" y="797.2" width="17.2" height="1.8" rx="0" fill="#bfeec0" stroke="#b9b9b9" stroke-width="0"/>
<path d="M933.8 770.8 L933.8 795.8" fill="none" stroke="#b9b9b9" stroke-width="0.7" />
<path d="M931.4 770.8 L931.4 795.8" fill="none" stroke="#b9b9b9" stroke-width="0.7" />
<path d="M929 770.8 L929 795.8" fill="none" stroke="#b9b9b9" stroke-width="0.7" />
<path d="M926.6 770.8 L926.6 795.8" fill="none" stroke="#b9b9b9" stroke-width="0.7" />
<path d="M924.2 770.8 L924.2 795.8" fill="none" stroke="#b9b9b9" stroke-width="0.7" />
<path d="M921.8 770.8 L921.8 795.8" fill="none" stroke="#b9b9b9" stroke-width="0.7" />
<path d="M919.4 770.8 L919.4 795.8" fill="none" stroke="#b9b9b9" stroke-width="0.7" />
<path d="M917 770.8 L917 795.8" fill="none" stroke="#b9b9b9" stroke-width="0.7" />
<text transform="translate(937 792) scale(0.68 1)" font-size="3.96" fill="#1d9a2a" text-anchor="start" font-family="Liberation Sans,sans-serif">X X X</text>
<rect x="946.5" y="792" width="1.4" height="2" fill="#27e62e"/>
<path d="M867.4 709.1 L867.4 752.6 L907.8 752.6 L907.8 709.1 L934.7 709.1" fill="none" stroke="#b9b9b9" stroke-width="0.85" />
<path d="M862 701.3 L862 759.5 L911.1 759.5 L911.1 714 L934.7 714" fill="none" stroke="#b9b9b9" stroke-width="0.85" />
<path d="M856.5 689.6 L856.5 767.3 L914.6 767.3 L914.6 718.6 L934.7 718.6" fill="none" stroke="#b9b9b9" stroke-width="0.85" />
<path d="M917.6 772 L917.6 723 L934.7 723" fill="none" stroke="#b9b9b9" stroke-width="0.7" />
<path d="M920.5 772 L920.5 727.2 L934.7 727.2" fill="none" stroke="#b9b9b9" stroke-width="0.7" />
<path d="M923.8 772 L923.8 731.4 L934.7 731.4" fill="none" stroke="#b9b9b9" stroke-width="0.7" />
<path d="M926.9 772 L926.9 735.6 L934.7 735.6" fill="none" stroke="#b9b9b9" stroke-width="0.7" />
<path d="M930.2 772 L930.2 739.8 L934.7 739.8" fill="none" stroke="#b9b9b9" stroke-width="0.7" />
<path d="M933.2 772 L933.2 744 L934.7 744" fill="none" stroke="#b9b9b9" stroke-width="0.7" />
<rect x="935.4" y="706.3" width="2.4" height="3.4" fill="#27e62e"/>
<rect x="935.4" y="710.6" width="2.4" height="3.4" fill="#27e62e"/>
<rect x="935.4" y="714.9" width="2.4" height="3.4" fill="#27e62e"/>
<rect x="935.4" y="719.2" width="2.4" height="3.4" fill="#27e62e"/>
<rect x="935.4" y="723.5" width="2.4" height="3.4" fill="#27e62e"/>
<rect x="935.4" y="727.8" width="2.4" height="3.4" fill="#27e62e"/>
<rect x="935.4" y="732.1" width="2.4" height="3.4" fill="#27e62e"/>
<rect x="935.4" y="736.4" width="2.4" height="3.4" fill="#27e62e"/>
<path d="M945.6 835 L945.6 833 L962 833" fill="none" stroke="#b9b9b9" stroke-width="0.8" />
<rect x="948.6" y="835.4" width="11.8" height="6" rx="0" fill="none" stroke="#ddd" stroke-width="0.8"/>
<rect x="960.4" y="832.2" width="6.4" height="3.2" fill="#27e62e"/>
<rect x="951.9" y="843.9" width="5" height="3" fill="#27e62e"/>
<rect x="944.4" y="831.6" width="1.6" height="1.6" fill="#27e62e"/>
<path d="M950 835 L958 835" fill="none" stroke="#eee" stroke-width="1.2" />
<rect x="958.5" y="868.3" width="43.9" height="13.3" rx="0" fill="none" stroke="#cfcfcf" stroke-width="0.9"/>
<path d="M958.5 877.1 L1002.4 877.1" fill="none" stroke="#b9b9b9" stroke-width="0.8" />
<path d="M974.1 868.3 L974.1 881.6" fill="none" stroke="#b9b9b9" stroke-width="0.8" />
<path d="M989 868.3 L989 877.1" fill="none" stroke="#b9b9b9" stroke-width="0.7" />
<path d="M997 868.3 L997 877.1" fill="none" stroke="#b9b9b9" stroke-width="0.7" />
<rect x="959.6" y="870" width="2.4" height="6" rx="0" fill="#e8e8e8" stroke="#b9b9b9" stroke-width="0"/>
<rect x="975" y="870.6" width="12.8" height="5.4" rx="0" fill="#6f7175" stroke="#b9b9b9" stroke-width="0"/>
<rect x="991.3" y="869.5" width="2.3" height="5" rx="0" fill="#e8e8e8" stroke="#b9b9b9" stroke-width="0"/>
<path d="M964 873 L973 873" fill="none" stroke="#999" stroke-width="0.6" /></g>
</svg>

</body>
</html>
